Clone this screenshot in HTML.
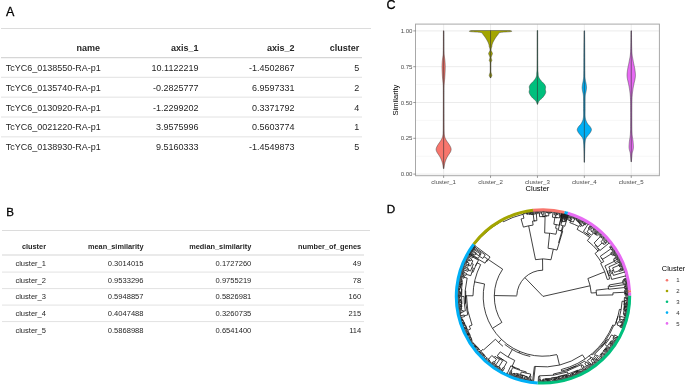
<!DOCTYPE html>
<html><head><meta charset="utf-8"><style>
html,body{margin:0;padding:0;background:#fff;width:685px;height:387px;overflow:hidden}
svg{display:block;will-change:transform}
text{font-family:"Liberation Sans", sans-serif}
</style></head><body>
<svg width="685" height="387" viewBox="0 0 685 387">
<text x="6" y="16" font-size="12.5" fill="#000" stroke="#000" stroke-width="0.3">A</text>
<line x1="1" y1="28.5" x2="371" y2="28.5" stroke="#dcdcdc" stroke-width="1"/>
<text x="100" y="50.6" font-size="9.0" font-weight="bold" text-anchor="end" fill="#262626">name</text>
<text x="198.5" y="50.6" font-size="9.0" font-weight="bold" text-anchor="end" fill="#262626">axis_1</text>
<text x="294.5" y="50.6" font-size="9.0" font-weight="bold" text-anchor="end" fill="#262626">axis_2</text>
<text x="359.2" y="50.6" font-size="9.0" font-weight="bold" text-anchor="end" fill="#262626">cluster</text>
<line x1="1" y1="57.7" x2="362" y2="57.7" stroke="#d6d6d6" stroke-width="1.3"/>
<text x="100.8" y="70.80" font-size="9.0" text-anchor="end" fill="#262626">TcYC6_0138550-RA-p1</text>
<text x="198.5" y="70.80" font-size="9.0" text-anchor="end" fill="#262626">10.1122219</text>
<text x="294.5" y="70.80" font-size="9.0" text-anchor="end" fill="#262626">-1.4502867</text>
<text x="359.2" y="70.80" font-size="9.0" text-anchor="end" fill="#262626">5</text>
<line x1="1" y1="77.30" x2="362" y2="77.30" stroke="#e2e2e2" stroke-width="1"/>
<text x="100.8" y="90.65" font-size="9.0" text-anchor="end" fill="#262626">TcYC6_0135740-RA-p1</text>
<text x="198.5" y="90.65" font-size="9.0" text-anchor="end" fill="#262626">-0.2825777</text>
<text x="294.5" y="90.65" font-size="9.0" text-anchor="end" fill="#262626">6.9597331</text>
<text x="359.2" y="90.65" font-size="9.0" text-anchor="end" fill="#262626">2</text>
<line x1="1" y1="97.15" x2="362" y2="97.15" stroke="#e2e2e2" stroke-width="1"/>
<text x="100.8" y="110.50" font-size="9.0" text-anchor="end" fill="#262626">TcYC6_0130920-RA-p1</text>
<text x="198.5" y="110.50" font-size="9.0" text-anchor="end" fill="#262626">-1.2299202</text>
<text x="294.5" y="110.50" font-size="9.0" text-anchor="end" fill="#262626">0.3371792</text>
<text x="359.2" y="110.50" font-size="9.0" text-anchor="end" fill="#262626">4</text>
<line x1="1" y1="117.00" x2="362" y2="117.00" stroke="#e2e2e2" stroke-width="1"/>
<text x="100.8" y="130.35" font-size="9.0" text-anchor="end" fill="#262626">TcYC6_0021220-RA-p1</text>
<text x="198.5" y="130.35" font-size="9.0" text-anchor="end" fill="#262626">3.9575996</text>
<text x="294.5" y="130.35" font-size="9.0" text-anchor="end" fill="#262626">0.5603774</text>
<text x="359.2" y="130.35" font-size="9.0" text-anchor="end" fill="#262626">1</text>
<line x1="1" y1="136.85" x2="362" y2="136.85" stroke="#e2e2e2" stroke-width="1"/>
<text x="100.8" y="150.20" font-size="9.0" text-anchor="end" fill="#262626">TcYC6_0138930-RA-p1</text>
<text x="198.5" y="150.20" font-size="9.0" text-anchor="end" fill="#262626">9.5160333</text>
<text x="294.5" y="150.20" font-size="9.0" text-anchor="end" fill="#262626">-1.4549873</text>
<text x="359.2" y="150.20" font-size="9.0" text-anchor="end" fill="#262626">5</text>
<text x="6.2" y="216" font-size="11.5" fill="#000" stroke="#000" stroke-width="0.3">B</text>
<line x1="2" y1="230.5" x2="370" y2="230.5" stroke="#dcdcdc" stroke-width="1"/>
<text x="46" y="249.2" font-size="7.35" font-weight="bold" text-anchor="end" fill="#262626">cluster</text>
<text x="143.5" y="249.2" font-size="7.35" font-weight="bold" text-anchor="end" fill="#262626">mean_similarity</text>
<text x="251.3" y="249.2" font-size="7.35" font-weight="bold" text-anchor="end" fill="#262626">median_similarity</text>
<text x="361.2" y="249.2" font-size="7.35" font-weight="bold" text-anchor="end" fill="#262626">number_of_genes</text>
<line x1="2" y1="255" x2="364" y2="255" stroke="#d6d6d6" stroke-width="1.2"/>
<text x="46" y="266.10" font-size="7.55" text-anchor="end" fill="#262626">cluster_1</text>
<text x="143.5" y="266.10" font-size="7.55" text-anchor="end" fill="#262626">0.3014015</text>
<text x="251.3" y="266.10" font-size="7.55" text-anchor="end" fill="#262626">0.1727260</text>
<text x="361.2" y="266.10" font-size="7.55" text-anchor="end" fill="#262626">49</text>
<line x1="2" y1="272.10" x2="364" y2="272.10" stroke="#e2e2e2" stroke-width="1"/>
<text x="46" y="282.70" font-size="7.55" text-anchor="end" fill="#262626">cluster_2</text>
<text x="143.5" y="282.70" font-size="7.55" text-anchor="end" fill="#262626">0.9533296</text>
<text x="251.3" y="282.70" font-size="7.55" text-anchor="end" fill="#262626">0.9755219</text>
<text x="361.2" y="282.70" font-size="7.55" text-anchor="end" fill="#262626">78</text>
<line x1="2" y1="288.60" x2="364" y2="288.60" stroke="#e2e2e2" stroke-width="1"/>
<text x="46" y="299.30" font-size="7.55" text-anchor="end" fill="#262626">cluster_3</text>
<text x="143.5" y="299.30" font-size="7.55" text-anchor="end" fill="#262626">0.5948857</text>
<text x="251.3" y="299.30" font-size="7.55" text-anchor="end" fill="#262626">0.5826981</text>
<text x="361.2" y="299.30" font-size="7.55" text-anchor="end" fill="#262626">160</text>
<line x1="2" y1="305.10" x2="364" y2="305.10" stroke="#e2e2e2" stroke-width="1"/>
<text x="46" y="315.90" font-size="7.55" text-anchor="end" fill="#262626">cluster_4</text>
<text x="143.5" y="315.90" font-size="7.55" text-anchor="end" fill="#262626">0.4047488</text>
<text x="251.3" y="315.90" font-size="7.55" text-anchor="end" fill="#262626">0.3260735</text>
<text x="361.2" y="315.90" font-size="7.55" text-anchor="end" fill="#262626">215</text>
<line x1="2" y1="321.60" x2="364" y2="321.60" stroke="#e2e2e2" stroke-width="1"/>
<text x="46" y="332.50" font-size="7.55" text-anchor="end" fill="#262626">cluster_5</text>
<text x="143.5" y="332.50" font-size="7.55" text-anchor="end" fill="#262626">0.5868988</text>
<text x="251.3" y="332.50" font-size="7.55" text-anchor="end" fill="#262626">0.6541400</text>
<text x="361.2" y="332.50" font-size="7.55" text-anchor="end" fill="#262626">114</text>
<text x="386.5" y="9.3" font-size="12.5" fill="#000" stroke="#000" stroke-width="0.3">C</text>
<line x1="415.5" y1="156.20" x2="659.4" y2="156.20" stroke="#f2f2f2" stroke-width="0.6"/>
<line x1="415.5" y1="120.40" x2="659.4" y2="120.40" stroke="#f2f2f2" stroke-width="0.6"/>
<line x1="415.5" y1="84.60" x2="659.4" y2="84.60" stroke="#f2f2f2" stroke-width="0.6"/>
<line x1="415.5" y1="48.80" x2="659.4" y2="48.80" stroke="#f2f2f2" stroke-width="0.6"/>
<line x1="415.5" y1="174.10" x2="659.4" y2="174.10" stroke="#e6e6e6" stroke-width="0.8"/>
<line x1="415.5" y1="138.30" x2="659.4" y2="138.30" stroke="#e6e6e6" stroke-width="0.8"/>
<line x1="415.5" y1="102.50" x2="659.4" y2="102.50" stroke="#e6e6e6" stroke-width="0.8"/>
<line x1="415.5" y1="66.70" x2="659.4" y2="66.70" stroke="#e6e6e6" stroke-width="0.8"/>
<line x1="415.5" y1="30.90" x2="659.4" y2="30.90" stroke="#e6e6e6" stroke-width="0.8"/>
<line x1="443.64" y1="24.1" x2="443.64" y2="175.7" stroke="#e6e6e6" stroke-width="0.8"/>
<line x1="490.54" y1="24.1" x2="490.54" y2="175.7" stroke="#e6e6e6" stroke-width="0.8"/>
<line x1="537.44" y1="24.1" x2="537.44" y2="175.7" stroke="#e6e6e6" stroke-width="0.8"/>
<line x1="584.34" y1="24.1" x2="584.34" y2="175.7" stroke="#e6e6e6" stroke-width="0.8"/>
<line x1="631.24" y1="24.1" x2="631.24" y2="175.7" stroke="#e6e6e6" stroke-width="0.8"/>
<path d="M443.89,30.80 L443.89,31.77 L443.90,33.08 L443.91,34.65 L443.92,36.39 L443.93,38.20 L443.94,40.00 L443.95,41.93 L443.96,44.09 L443.97,46.33 L443.99,48.49 L444.01,50.43 L444.04,52.00 L444.08,53.14 L444.12,53.96 L444.17,54.56 L444.23,55.04 L444.28,55.48 L444.34,56.00 L444.40,56.56 L444.47,57.07 L444.54,57.56 L444.61,58.04 L444.68,58.51 L444.74,59.00 L444.80,59.48 L444.85,59.95 L444.90,60.42 L444.95,60.90 L445.00,61.42 L445.04,62.00 L445.08,62.63 L445.13,63.29 L445.17,63.98 L445.20,64.71 L445.23,65.49 L445.24,66.30 L445.24,67.17 L445.22,68.09 L445.20,69.04 L445.17,70.03 L445.13,71.02 L445.09,72.00 L445.04,72.99 L444.99,74.01 L444.93,75.04 L444.87,76.06 L444.81,77.05 L444.74,78.00 L444.67,78.90 L444.59,79.78 L444.51,80.62 L444.43,81.44 L444.35,82.24 L444.29,83.00 L444.23,83.62 L444.18,84.07 L444.14,84.50 L444.10,85.04 L444.07,85.82 L444.04,87.00 L444.02,88.56 L444.00,90.41 L444.00,92.50 L443.99,94.81 L443.99,97.32 L443.99,100.00 L443.99,103.02 L444.00,106.44 L444.01,110.06 L444.02,113.67 L444.03,117.05 L444.04,120.00 L444.05,122.56 L444.06,124.89 L444.07,127.00 L444.08,128.89 L444.11,130.56 L444.14,132.00 L444.18,133.15 L444.24,133.98 L444.30,134.59 L444.37,135.07 L444.45,135.51 L444.54,136.00 L444.64,136.50 L444.75,136.94 L444.88,137.34 L445.01,137.72 L445.17,138.10 L445.34,138.50 L445.53,138.91 L445.74,139.31 L445.96,139.72 L446.20,140.13 L446.46,140.55 L446.74,141.00 L447.05,141.47 L447.40,141.96 L447.77,142.47 L448.14,142.98 L448.51,143.49 L448.84,144.00 L449.16,144.51 L449.48,145.02 L449.78,145.53 L450.07,146.04 L450.32,146.53 L450.54,147.00 L450.72,147.45 L450.87,147.87 L450.99,148.28 L451.08,148.69 L451.13,149.09 L451.14,149.50 L451.11,149.92 L451.04,150.33 L450.93,150.75 L450.79,151.17 L450.62,151.58 L450.44,152.00 L450.23,152.42 L449.97,152.83 L449.70,153.25 L449.41,153.67 L449.12,154.08 L448.84,154.50 L448.57,154.91 L448.30,155.31 L448.03,155.72 L447.76,156.13 L447.50,156.55 L447.24,157.00 L446.99,157.47 L446.74,157.96 L446.50,158.47 L446.27,158.98 L446.05,159.49 L445.84,160.00 L445.65,160.50 L445.46,161.00 L445.29,161.50 L445.13,162.00 L444.98,162.50 L444.84,163.00 L444.71,163.50 L444.60,164.01 L444.50,164.53 L444.41,165.03 L444.32,165.52 L444.24,166.00 L444.16,166.49 L444.08,166.99 L444.00,167.49 L443.94,167.94 L443.88,168.32 L443.84,168.60 L443.44,168.60 L443.40,168.32 L443.34,167.94 L443.28,167.49 L443.20,166.99 L443.12,166.49 L443.04,166.00 L442.96,165.52 L442.87,165.03 L442.78,164.53 L442.68,164.01 L442.57,163.50 L442.44,163.00 L442.30,162.50 L442.15,162.00 L441.99,161.50 L441.82,161.00 L441.63,160.50 L441.44,160.00 L441.23,159.49 L441.01,158.98 L440.78,158.47 L440.54,157.96 L440.29,157.47 L440.04,157.00 L439.78,156.55 L439.52,156.13 L439.25,155.72 L438.98,155.31 L438.71,154.91 L438.44,154.50 L438.16,154.08 L437.87,153.67 L437.58,153.25 L437.31,152.83 L437.05,152.42 L436.84,152.00 L436.66,151.58 L436.49,151.17 L436.35,150.75 L436.24,150.33 L436.17,149.92 L436.14,149.50 L436.15,149.09 L436.20,148.69 L436.29,148.28 L436.41,147.87 L436.56,147.45 L436.74,147.00 L436.96,146.53 L437.21,146.04 L437.50,145.53 L437.80,145.02 L438.12,144.51 L438.44,144.00 L438.77,143.49 L439.14,142.98 L439.51,142.47 L439.88,141.96 L440.23,141.47 L440.54,141.00 L440.82,140.55 L441.08,140.13 L441.32,139.72 L441.54,139.31 L441.75,138.91 L441.94,138.50 L442.11,138.10 L442.27,137.72 L442.40,137.34 L442.53,136.94 L442.64,136.50 L442.74,136.00 L442.83,135.51 L442.91,135.07 L442.98,134.59 L443.04,133.98 L443.10,133.15 L443.14,132.00 L443.17,130.56 L443.20,128.89 L443.21,127.00 L443.22,124.89 L443.23,122.56 L443.24,120.00 L443.25,117.05 L443.26,113.67 L443.27,110.06 L443.28,106.44 L443.29,103.02 L443.29,100.00 L443.29,97.32 L443.29,94.81 L443.28,92.50 L443.28,90.41 L443.26,88.56 L443.24,87.00 L443.21,85.82 L443.18,85.04 L443.14,84.50 L443.10,84.07 L443.05,83.62 L442.99,83.00 L442.93,82.24 L442.85,81.44 L442.77,80.62 L442.69,79.78 L442.61,78.90 L442.54,78.00 L442.47,77.05 L442.41,76.06 L442.35,75.04 L442.29,74.01 L442.24,72.99 L442.19,72.00 L442.15,71.02 L442.11,70.03 L442.08,69.04 L442.06,68.09 L442.04,67.17 L442.04,66.30 L442.05,65.49 L442.08,64.71 L442.11,63.98 L442.15,63.29 L442.20,62.63 L442.24,62.00 L442.28,61.42 L442.33,60.90 L442.38,60.42 L442.43,59.95 L442.48,59.48 L442.54,59.00 L442.60,58.51 L442.67,58.04 L442.74,57.56 L442.81,57.07 L442.88,56.56 L442.94,56.00 L443.00,55.48 L443.05,55.04 L443.11,54.56 L443.16,53.96 L443.20,53.14 L443.24,52.00 L443.27,50.43 L443.29,48.49 L443.31,46.33 L443.32,44.09 L443.33,41.93 L443.34,40.00 L443.35,38.20 L443.36,36.39 L443.37,34.65 L443.38,33.08 L443.39,31.77 L443.39,30.80Z" fill="#F8766D" stroke="#333" stroke-width="0.45" stroke-linejoin="round"/>
<line x1="443.64" y1="30.8" x2="443.64" y2="168.6" stroke="#333" stroke-width="0.6"/>
<path d="M510.04,30.50 L510.26,30.57 L510.61,30.66 L511.00,30.76 L511.36,30.88 L511.63,30.99 L511.74,31.10 L511.72,31.20 L511.64,31.30 L511.47,31.41 L511.16,31.51 L510.70,31.61 L510.04,31.70 L509.08,31.79 L507.81,31.87 L506.38,31.96 L504.94,32.04 L503.61,32.12 L502.54,32.20 L501.73,32.28 L501.07,32.34 L500.52,32.41 L500.07,32.49 L499.68,32.58 L499.34,32.70 L499.08,32.84 L498.93,32.99 L498.84,33.15 L498.78,33.34 L498.69,33.55 L498.54,33.80 L498.32,34.09 L498.06,34.43 L497.78,34.80 L497.49,35.18 L497.20,35.55 L496.94,35.90 L496.69,36.23 L496.45,36.54 L496.22,36.86 L495.98,37.17 L495.76,37.48 L495.54,37.80 L495.33,38.13 L495.13,38.45 L494.93,38.78 L494.73,39.11 L494.54,39.45 L494.34,39.80 L494.13,40.16 L493.92,40.54 L493.70,40.92 L493.50,41.30 L493.31,41.67 L493.14,42.00 L493.00,42.30 L492.89,42.59 L492.80,42.85 L492.71,43.10 L492.63,43.35 L492.54,43.60 L492.45,43.84 L492.35,44.07 L492.27,44.29 L492.18,44.52 L492.10,44.75 L492.04,45.00 L491.99,45.26 L491.97,45.54 L491.95,45.82 L491.93,46.11 L491.89,46.41 L491.84,46.70 L491.76,46.99 L491.65,47.29 L491.53,47.58 L491.42,47.88 L491.32,48.19 L491.24,48.50 L491.19,48.83 L491.14,49.17 L491.11,49.52 L491.10,49.86 L491.10,50.19 L491.14,50.50 L491.21,50.78 L491.32,51.03 L491.45,51.27 L491.58,51.50 L491.72,51.74 L491.84,52.00 L491.96,52.27 L492.10,52.55 L492.23,52.83 L492.34,53.12 L492.42,53.41 L492.44,53.70 L492.40,53.99 L492.30,54.29 L492.17,54.58 L492.01,54.88 L491.87,55.19 L491.74,55.50 L491.62,55.83 L491.50,56.17 L491.38,56.52 L491.27,56.86 L491.19,57.19 L491.14,57.50 L491.14,57.78 L491.17,58.04 L491.23,58.29 L491.30,58.53 L491.37,58.76 L491.44,59.00 L491.51,59.24 L491.60,59.47 L491.70,59.71 L491.78,59.94 L491.83,60.17 L491.84,60.40 L491.79,60.63 L491.70,60.86 L491.58,61.08 L491.45,61.31 L491.33,61.55 L491.24,61.80 L491.17,62.01 L491.11,62.17 L491.06,62.33 L491.01,62.57 L490.97,62.94 L490.94,63.50 L490.91,64.35 L490.90,65.46 L490.89,66.70 L490.88,67.95 L490.88,69.09 L490.89,70.00 L490.90,70.64 L490.90,71.11 L490.91,71.47 L490.93,71.78 L490.98,72.10 L491.04,72.50 L491.15,72.98 L491.32,73.51 L491.50,74.04 L491.67,74.57 L491.79,75.06 L491.84,75.50 L491.79,75.88 L491.68,76.23 L491.51,76.54 L491.33,76.83 L491.17,77.08 L491.04,77.30 L490.95,77.49 L490.88,77.64 L490.81,77.76 L490.76,77.86 L490.72,77.94 L490.69,78.00 L490.39,78.00 L490.36,77.94 L490.32,77.86 L490.27,77.76 L490.20,77.64 L490.13,77.49 L490.04,77.30 L489.91,77.08 L489.75,76.83 L489.57,76.54 L489.40,76.23 L489.29,75.88 L489.24,75.50 L489.29,75.06 L489.41,74.57 L489.58,74.04 L489.76,73.51 L489.93,72.98 L490.04,72.50 L490.10,72.10 L490.15,71.78 L490.17,71.47 L490.18,71.11 L490.18,70.64 L490.19,70.00 L490.20,69.09 L490.20,67.95 L490.19,66.70 L490.18,65.46 L490.17,64.35 L490.14,63.50 L490.11,62.94 L490.07,62.57 L490.02,62.33 L489.97,62.17 L489.91,62.01 L489.84,61.80 L489.75,61.55 L489.63,61.31 L489.50,61.08 L489.38,60.86 L489.29,60.63 L489.24,60.40 L489.25,60.17 L489.30,59.94 L489.38,59.71 L489.48,59.47 L489.57,59.24 L489.64,59.00 L489.71,58.76 L489.78,58.53 L489.85,58.29 L489.91,58.04 L489.94,57.78 L489.94,57.50 L489.89,57.19 L489.81,56.86 L489.70,56.52 L489.58,56.17 L489.46,55.83 L489.34,55.50 L489.21,55.19 L489.07,54.88 L488.92,54.58 L488.78,54.29 L488.68,53.99 L488.64,53.70 L488.66,53.41 L488.74,53.12 L488.85,52.83 L488.98,52.55 L489.12,52.27 L489.24,52.00 L489.36,51.74 L489.50,51.50 L489.63,51.27 L489.76,51.03 L489.87,50.78 L489.94,50.50 L489.98,50.19 L489.98,49.86 L489.97,49.52 L489.94,49.17 L489.89,48.83 L489.84,48.50 L489.76,48.19 L489.66,47.88 L489.55,47.58 L489.43,47.29 L489.32,46.99 L489.24,46.70 L489.19,46.41 L489.15,46.11 L489.13,45.82 L489.11,45.54 L489.09,45.26 L489.04,45.00 L488.98,44.75 L488.90,44.52 L488.81,44.29 L488.73,44.07 L488.63,43.84 L488.54,43.60 L488.45,43.35 L488.37,43.10 L488.28,42.85 L488.19,42.59 L488.08,42.30 L487.94,42.00 L487.77,41.67 L487.58,41.30 L487.38,40.92 L487.16,40.54 L486.95,40.16 L486.74,39.80 L486.54,39.45 L486.35,39.11 L486.15,38.78 L485.95,38.45 L485.75,38.13 L485.54,37.80 L485.32,37.48 L485.10,37.17 L484.87,36.86 L484.63,36.54 L484.39,36.23 L484.14,35.90 L483.88,35.55 L483.59,35.18 L483.30,34.80 L483.02,34.43 L482.76,34.09 L482.54,33.80 L482.39,33.55 L482.30,33.34 L482.24,33.15 L482.15,32.99 L482.00,32.84 L481.74,32.70 L481.40,32.58 L481.01,32.49 L480.56,32.41 L480.01,32.34 L479.35,32.28 L478.54,32.20 L477.47,32.12 L476.14,32.04 L474.70,31.96 L473.27,31.87 L472.00,31.79 L471.04,31.70 L470.38,31.61 L469.92,31.51 L469.62,31.41 L469.44,31.30 L469.36,31.20 L469.34,31.10 L469.45,30.99 L469.72,30.88 L470.08,30.76 L470.47,30.66 L470.82,30.57 L471.04,30.50Z" fill="#A3A500" stroke="#333" stroke-width="0.45" stroke-linejoin="round"/>
<line x1="490.54" y1="30.5" x2="490.54" y2="78" stroke="#333" stroke-width="0.6"/>
<path d="M537.69,30.50 L537.69,32.64 L537.70,35.61 L537.71,39.12 L537.72,42.89 L537.73,46.61 L537.74,50.00 L537.75,53.24 L537.76,56.59 L537.77,59.91 L537.79,63.02 L537.81,65.77 L537.84,68.00 L537.88,69.60 L537.92,70.68 L537.97,71.40 L538.03,71.92 L538.08,72.40 L538.14,73.00 L538.18,73.68 L538.21,74.31 L538.23,74.89 L538.28,75.46 L538.38,76.02 L538.54,76.60 L538.77,77.19 L539.04,77.77 L539.36,78.36 L539.72,78.94 L540.11,79.52 L540.54,80.10 L541.03,80.69 L541.60,81.29 L542.21,81.89 L542.81,82.48 L543.37,83.05 L543.84,83.60 L544.24,84.12 L544.60,84.61 L544.91,85.09 L545.17,85.56 L545.39,86.02 L545.54,86.50 L545.61,86.98 L545.59,87.47 L545.52,87.95 L545.43,88.43 L545.36,88.92 L545.34,89.40 L545.39,89.88 L545.49,90.37 L545.61,90.85 L545.71,91.33 L545.76,91.82 L545.74,92.30 L545.63,92.78 L545.47,93.27 L545.26,93.75 L545.01,94.23 L544.73,94.72 L544.44,95.20 L544.12,95.69 L543.76,96.19 L543.38,96.68 L542.97,97.17 L542.56,97.65 L542.14,98.10 L541.70,98.53 L541.21,98.95 L540.72,99.36 L540.24,99.75 L539.81,100.13 L539.44,100.50 L539.15,100.86 L538.91,101.20 L538.71,101.54 L538.54,101.86 L538.39,102.18 L538.24,102.50 L538.10,102.83 L537.97,103.18 L537.87,103.53 L537.77,103.84 L537.70,104.11 L537.64,104.30 L537.24,104.30 L537.18,104.11 L537.11,103.84 L537.02,103.53 L536.91,103.18 L536.78,102.83 L536.64,102.50 L536.49,102.18 L536.34,101.86 L536.17,101.54 L535.97,101.20 L535.73,100.86 L535.44,100.50 L535.07,100.13 L534.64,99.75 L534.16,99.36 L533.67,98.95 L533.18,98.53 L532.74,98.10 L532.32,97.65 L531.91,97.17 L531.50,96.68 L531.12,96.19 L530.76,95.69 L530.44,95.20 L530.15,94.72 L529.87,94.23 L529.62,93.75 L529.41,93.27 L529.25,92.78 L529.14,92.30 L529.12,91.82 L529.17,91.33 L529.27,90.85 L529.39,90.37 L529.49,89.88 L529.54,89.40 L529.52,88.92 L529.45,88.43 L529.36,87.95 L529.29,87.47 L529.27,86.98 L529.34,86.50 L529.49,86.02 L529.71,85.56 L529.97,85.09 L530.28,84.61 L530.64,84.12 L531.04,83.60 L531.51,83.05 L532.07,82.48 L532.67,81.89 L533.28,81.29 L533.85,80.69 L534.34,80.10 L534.77,79.52 L535.16,78.94 L535.52,78.36 L535.84,77.77 L536.11,77.19 L536.34,76.60 L536.50,76.02 L536.60,75.46 L536.65,74.89 L536.67,74.31 L536.70,73.68 L536.74,73.00 L536.80,72.40 L536.85,71.92 L536.91,71.40 L536.96,70.68 L537.00,69.60 L537.04,68.00 L537.07,65.77 L537.09,63.02 L537.11,59.91 L537.12,56.59 L537.13,53.24 L537.14,50.00 L537.15,46.61 L537.16,42.89 L537.17,39.12 L537.18,35.61 L537.19,32.64 L537.19,30.50Z" fill="#00BF7D" stroke="#333" stroke-width="0.45" stroke-linejoin="round"/>
<line x1="537.44" y1="30.5" x2="537.44" y2="104.3" stroke="#333" stroke-width="0.6"/>
<path d="M584.59,30.80 L584.61,32.34 L584.63,34.45 L584.66,36.96 L584.69,39.68 L584.72,42.42 L584.74,45.00 L584.76,47.45 L584.78,49.94 L584.79,52.45 L584.81,54.97 L584.82,57.49 L584.84,60.00 L584.85,62.62 L584.86,65.37 L584.87,68.12 L584.88,70.74 L584.91,73.08 L584.94,75.00 L584.98,76.42 L585.04,77.44 L585.10,78.19 L585.17,78.78 L585.25,79.34 L585.34,80.00 L585.45,80.73 L585.59,81.42 L585.74,82.09 L585.89,82.73 L586.03,83.37 L586.14,84.00 L586.24,84.63 L586.33,85.24 L586.42,85.84 L586.48,86.43 L586.52,87.02 L586.54,87.60 L586.52,88.17 L586.48,88.73 L586.42,89.27 L586.33,89.83 L586.24,90.40 L586.14,91.00 L586.02,91.62 L585.88,92.25 L585.73,92.90 L585.58,93.57 L585.44,94.27 L585.34,95.00 L585.27,95.72 L585.22,96.41 L585.19,97.12 L585.17,97.93 L585.15,98.87 L585.14,100.00 L585.13,101.42 L585.13,103.11 L585.13,104.94 L585.13,106.78 L585.14,108.51 L585.14,110.00 L585.13,111.26 L585.12,112.39 L585.11,113.41 L585.10,114.33 L585.11,115.19 L585.14,116.00 L585.19,116.74 L585.25,117.39 L585.33,117.97 L585.42,118.50 L585.52,119.00 L585.64,119.50 L585.77,119.98 L585.93,120.42 L586.09,120.83 L586.27,121.23 L586.45,121.61 L586.64,122.00 L586.83,122.38 L587.01,122.73 L587.20,123.08 L587.41,123.43 L587.66,123.80 L587.94,124.20 L588.29,124.63 L588.71,125.10 L589.15,125.58 L589.60,126.06 L590.00,126.54 L590.34,127.00 L590.62,127.45 L590.87,127.89 L591.09,128.32 L591.26,128.76 L591.38,129.18 L591.44,129.60 L591.42,130.02 L591.34,130.43 L591.20,130.84 L591.02,131.24 L590.83,131.63 L590.64,132.00 L590.45,132.35 L590.24,132.69 L590.01,133.01 L589.77,133.33 L589.51,133.65 L589.24,134.00 L588.95,134.37 L588.63,134.75 L588.29,135.14 L587.95,135.54 L587.63,135.92 L587.34,136.30 L587.07,136.64 L586.81,136.96 L586.57,137.27 L586.34,137.60 L586.13,137.97 L585.94,138.40 L585.77,138.86 L585.61,139.33 L585.48,139.83 L585.35,140.42 L585.24,141.13 L585.14,142.00 L585.05,143.03 L584.97,144.18 L584.91,145.46 L584.85,146.85 L584.79,148.37 L584.74,150.00 L584.69,151.94 L584.64,154.24 L584.59,156.65 L584.55,158.95 L584.52,160.91 L584.49,162.30 L584.19,162.30 L584.16,160.91 L584.13,158.95 L584.09,156.65 L584.04,154.24 L583.99,151.94 L583.94,150.00 L583.89,148.37 L583.83,146.85 L583.77,145.46 L583.71,144.18 L583.63,143.03 L583.54,142.00 L583.44,141.13 L583.33,140.42 L583.20,139.83 L583.07,139.33 L582.91,138.86 L582.74,138.40 L582.55,137.97 L582.34,137.60 L582.11,137.27 L581.87,136.96 L581.61,136.64 L581.34,136.30 L581.05,135.92 L580.73,135.54 L580.39,135.14 L580.05,134.75 L579.73,134.37 L579.44,134.00 L579.17,133.65 L578.91,133.33 L578.67,133.01 L578.44,132.69 L578.23,132.35 L578.04,132.00 L577.85,131.63 L577.66,131.24 L577.48,130.84 L577.34,130.43 L577.26,130.02 L577.24,129.60 L577.30,129.18 L577.42,128.76 L577.59,128.32 L577.81,127.89 L578.06,127.45 L578.34,127.00 L578.68,126.54 L579.08,126.06 L579.53,125.58 L579.97,125.10 L580.39,124.63 L580.74,124.20 L581.02,123.80 L581.27,123.43 L581.48,123.08 L581.67,122.73 L581.85,122.38 L582.04,122.00 L582.23,121.61 L582.41,121.23 L582.59,120.83 L582.75,120.42 L582.91,119.98 L583.04,119.50 L583.16,119.00 L583.26,118.50 L583.35,117.97 L583.43,117.39 L583.49,116.74 L583.54,116.00 L583.57,115.19 L583.58,114.33 L583.57,113.41 L583.56,112.39 L583.55,111.26 L583.54,110.00 L583.54,108.51 L583.55,106.78 L583.55,104.94 L583.55,103.11 L583.55,101.42 L583.54,100.00 L583.53,98.87 L583.51,97.93 L583.49,97.12 L583.46,96.41 L583.41,95.72 L583.34,95.00 L583.24,94.27 L583.10,93.57 L582.95,92.90 L582.80,92.25 L582.66,91.62 L582.54,91.00 L582.44,90.40 L582.35,89.83 L582.26,89.27 L582.20,88.73 L582.16,88.17 L582.14,87.60 L582.16,87.02 L582.20,86.43 L582.26,85.84 L582.35,85.24 L582.44,84.63 L582.54,84.00 L582.65,83.37 L582.79,82.73 L582.94,82.09 L583.09,81.42 L583.23,80.73 L583.34,80.00 L583.43,79.34 L583.51,78.78 L583.58,78.19 L583.64,77.44 L583.70,76.42 L583.74,75.00 L583.77,73.08 L583.80,70.74 L583.81,68.12 L583.82,65.37 L583.83,62.62 L583.84,60.00 L583.86,57.49 L583.87,54.97 L583.89,52.45 L583.90,49.94 L583.92,47.45 L583.94,45.00 L583.96,42.42 L583.99,39.68 L584.02,36.96 L584.05,34.45 L584.07,32.34 L584.09,30.80Z" fill="#00B0F6" stroke="#333" stroke-width="0.45" stroke-linejoin="round"/>
<line x1="584.34" y1="30.8" x2="584.34" y2="162.3" stroke="#333" stroke-width="0.6"/>
<path d="M631.49,30.80 L631.50,32.41 L631.52,34.67 L631.54,37.34 L631.57,40.13 L631.60,42.77 L631.64,45.00 L631.69,46.85 L631.74,48.53 L631.80,50.08 L631.87,51.49 L631.95,52.79 L632.04,54.00 L632.15,55.07 L632.27,55.97 L632.41,56.77 L632.55,57.50 L632.70,58.23 L632.84,59.00 L632.99,59.81 L633.14,60.62 L633.29,61.42 L633.44,62.21 L633.59,62.97 L633.74,63.70 L633.88,64.38 L634.02,65.03 L634.16,65.65 L634.29,66.26 L634.42,66.87 L634.54,67.50 L634.66,68.14 L634.77,68.79 L634.87,69.44 L634.97,70.10 L635.06,70.75 L635.14,71.40 L635.22,72.05 L635.29,72.71 L635.35,73.36 L635.40,74.01 L635.43,74.66 L635.44,75.30 L635.42,75.92 L635.38,76.54 L635.32,77.14 L635.24,77.75 L635.14,78.37 L635.04,79.00 L634.92,79.65 L634.77,80.31 L634.62,80.98 L634.45,81.66 L634.29,82.33 L634.14,83.00 L634.00,83.67 L633.86,84.34 L633.72,85.01 L633.59,85.68 L633.46,86.34 L633.34,87.00 L633.23,87.61 L633.13,88.17 L633.03,88.73 L632.94,89.32 L632.84,90.00 L632.74,90.80 L632.62,91.69 L632.50,92.64 L632.37,93.66 L632.24,94.81 L632.13,96.11 L632.04,97.60 L631.98,99.31 L631.93,101.22 L631.90,103.29 L631.87,105.47 L631.86,107.72 L631.84,110.00 L631.83,112.43 L631.82,115.07 L631.82,117.78 L631.82,120.42 L631.83,122.88 L631.84,125.00 L631.86,126.78 L631.88,128.33 L631.91,129.69 L631.95,130.89 L631.99,131.98 L632.04,133.00 L632.09,133.90 L632.15,134.63 L632.22,135.25 L632.28,135.81 L632.36,136.38 L632.44,137.00 L632.53,137.67 L632.64,138.35 L632.75,139.03 L632.85,139.70 L632.96,140.36 L633.04,141.00 L633.11,141.62 L633.17,142.23 L633.22,142.83 L633.27,143.40 L633.31,143.96 L633.34,144.50 L633.37,145.01 L633.41,145.49 L633.43,145.95 L633.45,146.40 L633.45,146.85 L633.44,147.30 L633.41,147.75 L633.36,148.20 L633.30,148.64 L633.22,149.08 L633.14,149.53 L633.04,150.00 L632.93,150.47 L632.79,150.94 L632.64,151.42 L632.49,151.91 L632.35,152.44 L632.24,153.00 L632.15,153.60 L632.08,154.23 L632.02,154.89 L631.96,155.57 L631.90,156.28 L631.84,157.00 L631.76,157.81 L631.68,158.72 L631.59,159.65 L631.51,160.53 L631.44,161.27 L631.39,161.80 L631.09,161.80 L631.04,161.27 L630.97,160.53 L630.89,159.65 L630.80,158.72 L630.72,157.81 L630.64,157.00 L630.58,156.28 L630.52,155.57 L630.46,154.89 L630.40,154.23 L630.33,153.60 L630.24,153.00 L630.13,152.44 L629.99,151.91 L629.84,151.42 L629.69,150.94 L629.55,150.47 L629.44,150.00 L629.34,149.53 L629.26,149.08 L629.18,148.64 L629.12,148.20 L629.07,147.75 L629.04,147.30 L629.03,146.85 L629.03,146.40 L629.05,145.95 L629.07,145.49 L629.11,145.01 L629.14,144.50 L629.17,143.96 L629.21,143.40 L629.26,142.83 L629.31,142.23 L629.37,141.62 L629.44,141.00 L629.52,140.36 L629.63,139.70 L629.73,139.03 L629.84,138.35 L629.95,137.67 L630.04,137.00 L630.12,136.38 L630.20,135.81 L630.26,135.25 L630.33,134.63 L630.39,133.90 L630.44,133.00 L630.49,131.98 L630.53,130.89 L630.57,129.69 L630.60,128.33 L630.62,126.78 L630.64,125.00 L630.65,122.88 L630.66,120.42 L630.66,117.78 L630.66,115.07 L630.65,112.43 L630.64,110.00 L630.62,107.72 L630.61,105.47 L630.58,103.29 L630.55,101.22 L630.50,99.31 L630.44,97.60 L630.35,96.11 L630.24,94.81 L630.12,93.66 L629.98,92.64 L629.86,91.69 L629.74,90.80 L629.64,90.00 L629.54,89.32 L629.45,88.73 L629.35,88.17 L629.25,87.61 L629.14,87.00 L629.02,86.34 L628.89,85.68 L628.76,85.01 L628.62,84.34 L628.48,83.67 L628.34,83.00 L628.19,82.33 L628.03,81.66 L627.87,80.98 L627.71,80.31 L627.56,79.65 L627.44,79.00 L627.34,78.37 L627.24,77.75 L627.16,77.14 L627.10,76.54 L627.06,75.92 L627.04,75.30 L627.05,74.66 L627.08,74.01 L627.13,73.36 L627.19,72.71 L627.26,72.05 L627.34,71.40 L627.42,70.75 L627.51,70.10 L627.61,69.44 L627.71,68.79 L627.82,68.14 L627.94,67.50 L628.06,66.87 L628.19,66.26 L628.32,65.65 L628.46,65.03 L628.60,64.38 L628.74,63.70 L628.89,62.97 L629.04,62.21 L629.19,61.42 L629.34,60.62 L629.49,59.81 L629.64,59.00 L629.78,58.23 L629.93,57.50 L630.07,56.77 L630.21,55.97 L630.33,55.07 L630.44,54.00 L630.53,52.79 L630.61,51.49 L630.68,50.08 L630.74,48.53 L630.79,46.85 L630.84,45.00 L630.88,42.77 L630.91,40.13 L630.94,37.34 L630.96,34.67 L630.98,32.41 L630.99,30.80Z" fill="#E76BF3" stroke="#333" stroke-width="0.45" stroke-linejoin="round"/>
<line x1="631.24" y1="30.8" x2="631.24" y2="161.8" stroke="#333" stroke-width="0.6"/>
<rect x="415.5" y="24.1" width="243.90" height="151.60" fill="none" stroke="#a8a8a8" stroke-width="1"/>
<line x1="413.3" y1="174.10" x2="415.5" y2="174.10" stroke="#555" stroke-width="0.6"/>
<text x="412.5" y="176.20" font-size="6.1" text-anchor="end" fill="#4d4d4d">0.00</text>
<line x1="413.3" y1="138.30" x2="415.5" y2="138.30" stroke="#555" stroke-width="0.6"/>
<text x="412.5" y="140.40" font-size="6.1" text-anchor="end" fill="#4d4d4d">0.25</text>
<line x1="413.3" y1="102.50" x2="415.5" y2="102.50" stroke="#555" stroke-width="0.6"/>
<text x="412.5" y="104.60" font-size="6.1" text-anchor="end" fill="#4d4d4d">0.50</text>
<line x1="413.3" y1="66.70" x2="415.5" y2="66.70" stroke="#555" stroke-width="0.6"/>
<text x="412.5" y="68.80" font-size="6.1" text-anchor="end" fill="#4d4d4d">0.75</text>
<line x1="413.3" y1="30.90" x2="415.5" y2="30.90" stroke="#555" stroke-width="0.6"/>
<text x="412.5" y="33.00" font-size="6.1" text-anchor="end" fill="#4d4d4d">1.00</text>
<line x1="443.64" y1="175.7" x2="443.64" y2="177.89999999999998" stroke="#555" stroke-width="0.6"/>
<text x="443.64" y="183.6" font-size="6.1" text-anchor="middle" fill="#4d4d4d">cluster_1</text>
<line x1="490.54" y1="175.7" x2="490.54" y2="177.89999999999998" stroke="#555" stroke-width="0.6"/>
<text x="490.54" y="183.6" font-size="6.1" text-anchor="middle" fill="#4d4d4d">cluster_2</text>
<line x1="537.44" y1="175.7" x2="537.44" y2="177.89999999999998" stroke="#555" stroke-width="0.6"/>
<text x="537.44" y="183.6" font-size="6.1" text-anchor="middle" fill="#4d4d4d">cluster_3</text>
<line x1="584.34" y1="175.7" x2="584.34" y2="177.89999999999998" stroke="#555" stroke-width="0.6"/>
<text x="584.34" y="183.6" font-size="6.1" text-anchor="middle" fill="#4d4d4d">cluster_4</text>
<line x1="631.24" y1="175.7" x2="631.24" y2="177.89999999999998" stroke="#555" stroke-width="0.6"/>
<text x="631.24" y="183.6" font-size="6.1" text-anchor="middle" fill="#4d4d4d">cluster_5</text>
<text x="537.5" y="191" font-size="7.5" text-anchor="middle" fill="#000">Cluster</text>
<text transform="translate(397.8,100) rotate(-90)" x="0" y="0" font-size="7.6" text-anchor="middle" fill="#000">Similarity</text>
<text x="386.8" y="213" font-size="11.7" fill="#000" stroke="#000" stroke-width="0.3">D</text>
<path d="M543.00,296.40L590.12,285.78 M543.00,296.40L524.80,277.55 M516.82,295.49A26.20,26.20 0 0 1 542.77,270.20 M542.68,270.20L542.54,258.90 M535.52,259.65A37.50,37.50 0 0 1 550.99,259.76 M535.52,259.65L528.65,225.85 M523.40,227.12A72.00,72.00 0 0 1 533.10,225.08 M550.99,259.76L553.31,249.11 M548.06,248.27A48.40,48.40 0 0 1 556.99,250.07 M548.06,248.27L549.64,233.25 M544.66,232.92A63.50,63.50 0 0 1 555.99,234.24 M523.40,227.12L521.08,218.94 M521.08,218.94A80.50,80.50 0 0 1 523.93,218.19 M523.93,218.19L522.99,214.30 M503.33,221.79A84.50,84.50 0 0 1 522.99,214.30 M474.34,244.11L474.18,243.99 M474.88,243.42L474.72,243.30 M474.34,244.11A86.30,86.30 0 0 1 474.88,243.42 M474.93,244.01L474.61,243.77 M475.42,242.73L475.26,242.61 M475.97,242.05L475.81,241.92 M476.52,241.37L476.37,241.24 M475.97,242.05A86.30,86.30 0 0 1 476.52,241.37 M476.24,241.71L476.24,241.71 M477.08,240.70L476.93,240.57 M477.65,240.03L477.50,239.90 M477.08,240.70A86.30,86.30 0 0 1 477.65,240.03 M477.37,240.37L477.37,240.37 M478.23,239.37L478.08,239.24 M477.37,240.37A86.30,86.30 0 0 1 478.23,239.37 M477.79,239.87L477.79,239.87 M476.24,241.71A86.30,86.30 0 0 1 477.79,239.87 M477.01,240.78L477.01,240.78 M475.42,242.73A86.30,86.30 0 0 1 477.01,240.78 M476.21,241.75L476.21,241.75 M478.81,238.72L478.66,238.59 M479.40,238.07L479.25,237.94 M479.99,237.43L479.85,237.29 M479.40,238.07A86.30,86.30 0 0 1 479.99,237.43 M479.69,237.75L479.69,237.75 M478.81,238.72A86.30,86.30 0 0 1 479.69,237.75 M479.25,238.23L479.25,238.23 M480.59,236.79L480.45,236.65 M479.25,238.23A86.30,86.30 0 0 1 480.59,236.79 M479.92,237.51L479.92,237.51 M481.20,236.16L481.06,236.02 M481.82,235.54L481.67,235.40 M481.20,236.16A86.30,86.30 0 0 1 481.82,235.54 M481.51,235.85L481.51,235.85 M479.92,237.51A86.30,86.30 0 0 1 481.51,235.85 M480.71,236.67L480.71,236.67 M476.21,241.75A86.30,86.30 0 0 1 480.71,236.67 M478.41,239.17L478.41,239.17 M482.44,234.92L482.30,234.78 M483.06,234.31L482.92,234.16 M482.44,234.92A86.30,86.30 0 0 1 483.06,234.31 M482.75,234.61L482.75,234.61 M483.70,233.70L483.56,233.56 M482.75,234.61A86.30,86.30 0 0 1 483.70,233.70 M483.22,234.16L483.22,234.16 M484.34,233.11L484.20,232.96 M484.98,232.51L484.85,232.37 M484.34,233.11A86.30,86.30 0 0 1 484.98,232.51 M484.66,232.81L484.66,232.81 M485.63,231.93L485.50,231.78 M486.29,231.35L486.16,231.20 M485.63,231.93A86.30,86.30 0 0 1 486.29,231.35 M485.96,231.64L485.96,231.64 M484.66,232.81A86.30,86.30 0 0 1 485.96,231.64 M485.31,232.22L485.31,232.22 M483.22,234.16A86.30,86.30 0 0 1 485.31,232.22 M484.26,233.18L484.26,233.18 M486.95,230.78L486.82,230.62 M487.62,230.21L487.49,230.06 M486.95,230.78A86.30,86.30 0 0 1 487.62,230.21 M487.29,230.49L487.29,230.49 M488.30,229.65L488.17,229.50 M487.29,230.49A86.30,86.30 0 0 1 488.30,229.65 M487.79,230.07L487.79,230.07 M488.98,229.10L488.85,228.95 M489.66,228.56L489.54,228.40 M490.35,228.02L490.23,227.86 M489.66,228.56A86.30,86.30 0 0 1 490.35,228.02 M490.01,228.29L490.01,228.29 M488.98,229.10A86.30,86.30 0 0 1 490.01,228.29 M489.49,228.69L489.49,228.69 M491.05,227.49L490.93,227.33 M489.49,228.69A86.30,86.30 0 0 1 491.05,227.49 M490.27,228.09L490.27,228.09 M491.75,226.96L491.63,226.80 M492.46,226.45L492.34,226.29 M491.75,226.96A86.30,86.30 0 0 1 492.46,226.45 M492.10,226.71L492.10,226.71 M490.27,228.09A86.30,86.30 0 0 1 492.10,226.71 M491.18,227.39L491.18,227.39 M493.17,225.94L493.06,225.78 M493.89,225.44L493.77,225.27 M493.17,225.94A86.30,86.30 0 0 1 493.89,225.44 M493.53,225.69L493.53,225.69 M491.18,227.39A86.30,86.30 0 0 1 493.53,225.69 M492.35,226.53L492.35,226.53 M487.79,230.07A86.30,86.30 0 0 1 492.35,226.53 M490.04,228.26L490.04,228.26 M494.61,224.94L494.50,224.78 M490.04,228.26A86.30,86.30 0 0 1 494.61,224.94 M492.30,226.56L492.30,226.56 M484.26,233.18A86.30,86.30 0 0 1 492.30,226.56 M488.18,229.75L488.18,229.75 M495.34,224.45L495.23,224.29 M496.07,223.98L495.96,223.81 M496.81,223.50L496.70,223.33 M497.55,223.04L497.45,222.87 M496.81,223.50A86.30,86.30 0 0 1 497.55,223.04 M497.18,223.27L497.18,223.27 M496.07,223.98A86.30,86.30 0 0 1 497.18,223.27 M496.62,223.62L496.62,223.62 M495.34,224.45A86.30,86.30 0 0 1 496.62,223.62 M495.98,224.03L495.98,224.03 M498.30,222.58L498.19,222.41 M499.05,222.13L498.95,221.96 M499.80,221.69L499.70,221.52 M499.05,222.13A86.30,86.30 0 0 1 499.80,221.69 M499.43,221.91L499.43,221.91 M498.30,222.58A86.30,86.30 0 0 1 499.43,221.91 M498.86,222.24L498.86,222.24 M495.98,224.03A86.30,86.30 0 0 1 498.86,222.24 M497.41,223.12L497.41,223.12 M488.18,229.75A86.30,86.30 0 0 1 497.41,223.12 M492.68,226.29L492.68,226.29 M500.56,221.25L500.47,221.08 M501.33,220.83L501.23,220.65 M500.56,221.25A86.30,86.30 0 0 1 501.33,220.83 M500.95,221.04L500.95,221.04 M502.10,220.41L502.00,220.23 M500.95,221.04A86.30,86.30 0 0 1 502.10,220.41 M501.52,220.72L501.52,220.72 M492.68,226.29A86.30,86.30 0 0 1 501.52,220.72 M497.02,223.37L497.02,223.37 M478.41,239.17A86.30,86.30 0 0 1 497.02,223.37 M487.41,230.91L487.15,230.61 M474.93,244.01A85.90,85.90 0 0 1 487.41,230.91 M503.33,221.79L502.67,220.55 M480.82,237.13A85.90,85.90 0 0 1 502.67,220.55 M523.10,212.98L523.05,212.75 M523.93,212.79L523.87,212.55 M523.10,212.98A85.76,85.76 0 0 1 523.93,212.79 M523.73,213.82L523.51,212.88 M524.96,213.54L524.70,212.37 M523.73,213.82A84.80,84.80 0 0 1 524.96,213.54 M522.99,214.30L522.92,214.01 M522.92,214.01A84.80,84.80 0 0 1 524.35,213.68 M525.85,213.71L525.54,212.19 M526.67,213.54L526.37,212.02 M525.85,213.71A84.45,84.45 0 0 1 526.67,213.54 M526.34,214.01L526.26,213.62 M527.49,213.38L527.20,211.86 M528.31,213.23L528.04,211.71 M527.49,213.38A84.45,84.45 0 0 1 528.31,213.23 M527.97,213.70L527.90,213.31 M526.34,214.01A84.05,84.05 0 0 1 527.97,213.70 M527.23,214.25L527.15,213.85 M529.13,213.09L528.88,211.57 M529.90,212.56L529.72,211.43 M530.73,212.44L530.56,211.30 M529.90,212.56A84.85,84.85 0 0 1 530.73,212.44 M530.37,212.90L530.31,212.50 M529.13,213.09A84.45,84.45 0 0 1 530.37,212.90 M529.81,213.39L529.75,212.99 M531.67,213.11L531.40,211.19 M529.81,213.39A84.05,84.05 0 0 1 531.67,213.11 M530.80,213.64L530.74,213.25 M527.23,214.25A83.65,83.65 0 0 1 530.80,213.64 M529.08,214.32L529.01,213.92 M532.59,213.80L532.25,211.08 M529.08,214.32A83.25,83.25 0 0 1 532.59,213.80 M530.89,214.44L530.83,214.04 M533.45,214.10L533.09,210.97 M530.89,214.44A82.85,82.85 0 0 1 533.45,214.10 M532.22,214.65L532.17,214.26 M534.31,214.41L533.94,210.88 M532.22,214.65A82.45,82.45 0 0 1 534.31,214.41 M534.03,220.93L533.27,214.52 M534.93,212.30L534.78,210.79 M535.76,212.23L535.63,210.72 M534.93,212.30A84.49,84.49 0 0 1 535.76,212.23 M535.50,213.99L535.34,212.26 M536.68,213.33L536.48,210.65 M537.50,213.27L537.33,210.59 M536.68,213.33A83.31,83.31 0 0 1 537.50,213.27 M537.13,213.85L537.09,213.30 M535.50,213.99A82.75,82.75 0 0 1 537.13,213.85 M536.86,220.65L536.32,213.92 M534.03,220.93A76.00,76.00 0 0 1 536.86,220.65 M533.10,225.08L532.55,221.12 M532.55,221.12A76.00,76.00 0 0 1 535.44,220.78 M538.30,212.52L538.19,210.53 M539.16,212.48L539.07,210.49 M538.30,212.52A84.01,84.01 0 0 1 539.16,212.48 M538.79,213.70L538.73,212.50 M540.07,213.64L539.95,210.45 M538.79,213.70A82.81,82.81 0 0 1 540.07,213.64 M539.56,216.67L539.43,213.67 M540.89,212.53L540.84,210.43 M541.74,211.66L541.72,210.41 M542.61,211.65L542.60,210.40 M541.74,211.66A84.75,84.75 0 0 1 542.61,211.65 M542.18,212.51L542.17,211.65 M540.89,212.53A83.89,83.89 0 0 1 542.18,212.51 M541.56,214.18L541.54,212.52 M543.48,212.04L543.49,210.40 M544.34,212.05L544.37,210.41 M543.48,212.04A84.36,84.36 0 0 1 544.34,212.05 M543.89,214.17L543.91,212.04 M541.56,214.18A82.23,82.23 0 0 1 543.89,214.17 M542.73,216.08L542.73,214.17 M545.11,215.71L545.25,210.43 M546.07,212.07L546.13,210.46 M546.94,212.11L547.02,210.49 M546.07,212.07A84.39,84.39 0 0 1 546.94,212.11 M546.49,212.49L546.51,212.09 M547.81,212.15L547.90,210.54 M548.67,212.21L548.78,210.59 M547.81,212.15A84.39,84.39 0 0 1 548.67,212.21 M548.21,212.58L548.24,212.18 M546.49,212.49A83.99,83.99 0 0 1 548.21,212.58 M547.33,212.93L547.35,212.53 M549.50,212.67L549.66,210.66 M550.44,211.89L550.54,210.73 M551.30,211.97L551.42,210.81 M550.44,211.89A84.84,84.84 0 0 1 551.30,211.97 M550.83,212.32L550.87,211.93 M552.13,212.45L552.30,210.90 M550.83,212.32A84.44,84.44 0 0 1 552.13,212.45 M551.44,212.84L551.48,212.39 M549.50,212.67A83.99,83.99 0 0 1 551.44,212.84 M550.43,213.15L550.47,212.75 M547.33,212.93A83.59,83.59 0 0 1 550.43,213.15 M548.68,215.88L548.88,213.02 M545.11,215.71A80.72,80.72 0 0 1 548.68,215.88 M546.88,216.18L546.90,215.78 M542.73,216.08A80.32,80.32 0 0 1 546.88,216.18 M544.79,216.62L544.81,216.10 M539.56,216.67A79.80,79.80 0 0 1 544.79,216.62 M544.66,232.92L545.09,216.63 M542.18,216.60A79.80,79.80 0 0 1 545.09,216.63 M555.99,234.24L557.17,228.56 M555.63,228.26A69.30,69.30 0 0 1 557.17,228.56 M552.45,217.21L553.19,211.01 M553.88,212.82L554.10,211.12 M554.76,212.94L555.00,211.24 M553.88,212.82A84.29,84.29 0 0 1 554.76,212.94 M554.08,214.66L554.32,212.87 M555.56,213.68L555.91,211.37 M556.50,213.42L556.81,211.52 M557.38,213.57L557.71,211.67 M556.50,213.42A84.07,84.07 0 0 1 557.38,213.57 M556.87,213.89L556.94,213.49 M555.56,213.68A83.67,83.67 0 0 1 556.87,213.89 M556.15,214.18L556.22,213.78 M558.12,214.51L558.61,211.83 M556.15,214.18A83.27,83.27 0 0 1 558.12,214.51 M557.00,215.11L557.14,214.34 M554.08,214.66A82.49,82.49 0 0 1 557.00,215.11 M555.19,217.18L555.54,214.87 M559.22,213.49L559.51,212.00 M560.10,213.67L560.41,212.18 M559.22,213.49A84.48,84.48 0 0 1 560.10,213.67 M559.22,215.75L559.66,213.58 M560.51,216.02L561.30,212.37 M559.22,215.75A82.26,82.26 0 0 1 560.51,216.02 M559.43,217.95L559.86,215.89 M555.19,217.18A80.15,80.15 0 0 1 559.43,217.95 M557.24,217.93L557.31,217.54 M552.45,217.21A79.75,79.75 0 0 1 557.24,217.93 M553.85,224.21L554.85,217.53 M559.29,225.24L562.19,212.57 M553.85,224.21A73.00,73.00 0 0 1 559.29,225.24 M555.63,228.26L556.30,224.62 M556.30,224.62A73.00,73.00 0 0 1 556.58,224.67 M556.99,250.07L562.08,233.22 M558.62,242.62L563.23,226.78 M558.62,242.62A56.00,56.00 0 0 1 559.19,242.79 M560.67,217.07L561.70,212.46 M561.10,217.16L562.15,212.56 M560.67,217.07A81.28,81.28 0 0 1 561.10,217.16 M560.71,217.88L560.89,217.11 M561.36,218.03L562.61,212.67 M560.71,217.88A80.49,80.49 0 0 1 561.36,218.03 M558.24,230.13L561.03,217.95 M560.96,221.55L563.07,212.77 M561.49,221.16L563.52,212.88 M562.45,219.09L563.98,213.00 M563.25,217.73L564.43,213.11 M563.78,217.45L564.89,213.23 M564.21,217.56L565.34,213.35 M563.78,217.45A81.64,81.64 0 0 1 564.21,217.56 M563.89,217.89L563.99,217.51 M563.25,217.73A81.24,81.24 0 0 1 563.89,217.89 M563.18,219.27L563.57,217.81 M562.45,219.09A79.72,79.72 0 0 1 563.18,219.27 M562.36,220.97L562.82,219.18 M564.09,219.67L565.79,213.48 M564.68,219.16L566.24,213.60 M565.38,218.32L566.70,213.73 M565.81,218.44L567.15,213.86 M565.38,218.32A81.23,81.23 0 0 1 565.81,218.44 M565.32,219.34L565.59,218.38 M564.68,219.16A80.23,80.23 0 0 1 565.32,219.34 M564.82,219.87L565.00,219.25 M564.09,219.67A79.58,79.58 0 0 1 564.82,219.87 M564.35,220.15L564.46,219.77 M565.65,220.53L567.60,213.99 M564.35,220.15A79.18,79.18 0 0 1 565.65,220.53 M564.75,221.21L565.00,220.34 M565.80,221.52L568.05,214.13 M564.75,221.21A78.28,78.28 0 0 1 565.80,221.52 M565.16,221.74L565.27,221.36 M562.36,220.97A77.88,77.88 0 0 1 565.16,221.74 M563.65,221.73L563.76,221.34 M561.49,221.16A77.48,77.48 0 0 1 563.65,221.73 M562.45,221.93L562.57,221.44 M560.96,221.55A76.97,76.97 0 0 1 562.45,221.93 M560.84,225.19L561.70,221.74 M564.76,226.29L568.49,214.27 M560.84,225.19A73.41,73.41 0 0 1 564.76,226.29 M561.35,230.92L562.81,225.71 M558.24,230.13A68.00,68.00 0 0 1 561.35,230.92 M562.08,233.22L562.65,231.30 M559.80,230.51A68.00,68.00 0 0 1 562.65,231.30 M587.88,278.54A48.30,48.30 0 0 1 591.18,293.03 M587.88,278.54L604.79,271.81 M600.71,263.35A66.50,66.50 0 0 1 607.32,279.53 M591.18,293.03L596.37,292.67 M596.13,290.16A53.50,53.50 0 0 1 596.49,295.28 M600.71,263.35L601.57,262.85 M595.08,253.46A67.50,67.50 0 0 1 601.57,262.85 M595.08,253.46L598.02,251.05 M587.39,240.60A71.30,71.30 0 0 1 598.02,251.05 M587.39,240.60L589.81,237.55 M577.14,229.40A75.20,75.20 0 0 1 589.81,237.55 M577.14,229.40L578.64,226.46 M569.85,222.63A78.50,78.50 0 0 1 578.64,226.46 M567.74,217.87L568.85,214.38 M568.54,218.13L569.68,214.64 M567.74,217.87A82.33,82.33 0 0 1 568.54,218.13 M567.64,219.55L568.14,218.00 M569.53,217.78L570.50,214.92 M570.33,218.05L571.33,215.20 M569.53,217.78A82.98,82.98 0 0 1 570.33,218.05 M569.80,218.30L569.93,217.92 M570.98,218.72L572.15,215.49 M569.80,218.30A82.57,82.57 0 0 1 570.98,218.72 M569.98,219.69L570.39,218.50 M571.33,220.18L572.96,215.79 M569.98,219.69A81.32,81.32 0 0 1 571.33,220.18 M570.45,220.51L570.66,219.93 M567.64,219.55A80.70,80.70 0 0 1 570.45,220.51 M568.92,220.40L569.05,220.02 M573.15,217.72L573.78,216.10 M573.95,218.03L574.59,216.41 M573.15,217.72A84.26,84.26 0 0 1 573.95,218.03 M573.41,218.25L573.55,217.88 M574.59,218.72L575.40,216.74 M573.41,218.25A83.86,83.86 0 0 1 574.59,218.72 M573.85,218.85L574.00,218.48 M575.22,219.41L576.20,217.07 M573.85,218.85A83.46,83.46 0 0 1 575.22,219.41 M573.34,222.05L574.54,219.13 M568.92,220.40A80.30,80.30 0 0 1 573.34,222.05 M570.86,221.94L571.14,221.19 M569.85,222.63L570.19,221.69 M570.19,221.69A79.50,79.50 0 0 1 570.86,221.94 M576.14,219.37L576.99,217.40 M576.91,219.71L577.78,217.75 M576.14,219.37A83.85,83.85 0 0 1 576.91,219.71 M576.26,220.16L576.53,219.54 M577.40,220.66L578.56,218.10 M576.26,220.16A83.18,83.18 0 0 1 577.40,220.66 M576.67,220.77L576.83,220.41 M578.32,220.65L579.34,218.46 M579.07,221.00L580.12,218.82 M578.32,220.65A83.58,83.58 0 0 1 579.07,221.00 M578.53,221.19L578.70,220.83 M579.65,221.73L580.89,219.20 M578.53,221.19A83.18,83.18 0 0 1 579.65,221.73 M578.92,221.82L579.09,221.46 M576.67,220.77A82.78,82.78 0 0 1 578.92,221.82 M577.62,221.66L577.79,221.29 M580.03,222.82L581.66,219.58 M577.62,221.66A82.37,82.37 0 0 1 580.03,222.82 M578.66,222.59L578.83,222.23 M580.58,223.55L582.43,219.97 M578.66,222.59A81.97,81.97 0 0 1 580.58,223.55 M579.28,223.75L579.62,223.06 M582.24,222.16L583.19,220.37 M582.98,222.55L583.94,220.77 M582.24,222.16A83.98,83.98 0 0 1 582.98,222.55 M581.30,224.79L582.61,222.35 M579.28,223.75A81.21,81.21 0 0 1 581.30,224.79 M580.11,224.62L580.30,224.26 M583.17,223.94L584.70,221.18 M584.31,223.60L585.45,221.60 M585.04,224.02L586.19,222.03 M584.31,223.60A83.70,83.70 0 0 1 585.04,224.02 M584.45,224.21L584.67,223.81 M585.52,224.84L586.93,222.47 M584.45,224.21A83.24,83.24 0 0 1 585.52,224.84 M584.78,224.86L584.99,224.52 M583.17,223.94A82.84,82.84 0 0 1 584.78,224.86 M582.97,226.17L583.98,224.40 M580.11,224.62A80.81,80.81 0 0 1 582.97,226.17 M580.93,226.53L581.55,225.38 M578.64,226.46L579.09,225.56 M579.09,225.56A79.50,79.50 0 0 1 580.93,226.53 M587.15,223.76L587.66,222.91 M588.30,223.53L588.41,223.36 M589.03,223.99L589.14,223.83 M588.30,223.53A85.80,85.80 0 0 1 589.03,223.99 M588.67,223.76L588.67,223.76 M589.76,224.46L589.87,224.30 M588.67,223.76A85.80,85.80 0 0 1 589.76,224.46 M588.79,224.79L589.22,224.11 M587.15,223.76A85.00,85.00 0 0 1 588.79,224.79 M583.47,231.48L587.97,224.27 M588.54,227.87L590.60,224.77 M589.23,228.33L591.32,225.26 M588.54,227.87A82.28,82.28 0 0 1 589.23,228.33 M588.32,228.94L588.89,228.10 M589.34,229.63L592.04,225.75 M588.32,228.94A81.27,81.27 0 0 1 589.34,229.63 M587.07,231.87L588.83,229.28 M591.82,227.55L592.75,226.25 M592.52,228.05L593.45,226.75 M591.82,227.55A84.40,84.40 0 0 1 592.52,228.05 M590.47,230.17L592.17,227.80 M592.95,228.90L594.15,227.27 M593.63,229.40L594.85,227.79 M592.95,228.90A83.97,83.97 0 0 1 593.63,229.40 M593.05,229.47L593.29,229.15 M594.06,230.24L595.54,228.32 M593.05,229.47A83.57,83.57 0 0 1 594.06,230.24 M592.29,231.51L593.56,229.85 M590.47,230.17A81.49,81.49 0 0 1 592.29,231.51 M591.15,231.16L591.39,230.84 M593.68,232.08L596.23,228.85 M595.19,231.52L596.91,229.39 M595.85,232.05L597.58,229.94 M595.19,231.52A83.27,83.27 0 0 1 595.85,232.05 M595.27,232.09L595.52,231.78 M596.54,232.53L598.25,230.50 M597.18,233.08L598.91,231.06 M596.54,232.53A83.34,83.34 0 0 1 597.18,233.08 M596.56,233.16L596.86,232.81 M595.27,232.09A82.87,82.87 0 0 1 596.56,233.16 M595.54,233.07L595.92,232.63 M597.13,234.42L599.57,231.63 M595.54,233.07A82.29,82.29 0 0 1 597.13,234.42 M596.08,234.05L596.34,233.74 M593.68,232.08A81.89,81.89 0 0 1 596.08,234.05 M594.64,233.36L594.89,233.05 M597.22,235.57L600.22,232.20 M594.64,233.36A81.49,81.49 0 0 1 597.22,235.57 M595.68,234.76L595.94,234.45 M591.15,231.16A81.09,81.09 0 0 1 595.68,234.76 M591.62,235.22L593.45,232.92 M587.07,231.87A78.15,78.15 0 0 1 591.62,235.22 M588.40,234.83L589.37,233.50 M583.47,231.48A76.50,76.50 0 0 1 588.40,234.83 M589.81,237.55L590.62,236.53 M585.97,233.11A76.50,76.50 0 0 1 590.62,236.53 M608.49,242.21L609.26,241.57 M609.65,242.37L609.81,242.25 M610.20,243.05L610.35,242.93 M609.65,242.37A85.80,85.80 0 0 1 610.20,243.05 M609.90,242.73L609.93,242.71 M610.73,243.73L610.89,243.61 M611.26,244.42L611.42,244.30 M610.73,243.73A85.80,85.80 0 0 1 611.26,244.42 M610.98,244.09L611.00,244.07 M609.90,242.73A85.77,85.77 0 0 1 610.98,244.09 M609.84,243.88L610.44,243.41 M608.49,242.21A85.00,85.00 0 0 1 609.84,243.88 M599.83,250.58L609.17,243.04 M599.42,234.37L600.87,232.78 M600.04,234.94L601.51,233.37 M599.42,234.37A83.85,83.85 0 0 1 600.04,234.94 M598.94,235.52L599.73,234.66 M600.41,235.79L602.14,233.96 M601.58,235.80L602.77,234.56 M602.19,236.39L603.39,235.17 M601.58,235.80A84.28,84.28 0 0 1 602.19,236.39 M601.60,236.38L601.88,236.09 M602.51,237.28L604.01,235.78 M601.60,236.38A83.88,83.88 0 0 1 602.51,237.28 M601.77,237.11L602.06,236.83 M600.41,235.79A83.48,83.48 0 0 1 601.77,237.11 M600.82,236.73L601.10,236.45 M602.53,238.44L604.62,236.40 M600.82,236.73A83.08,83.08 0 0 1 602.53,238.44 M601.40,237.86L601.68,237.58 M598.94,235.52A82.68,82.68 0 0 1 601.40,237.86 M594.10,243.03L600.18,236.68 M602.63,239.49L605.22,237.03 M603.21,240.10L605.82,237.66 M602.63,239.49A82.43,82.43 0 0 1 603.21,240.10 M600.97,241.64L602.92,239.80 M603.78,240.71L606.41,238.30 M605.79,240.02L606.99,238.94 M606.35,240.66L607.57,239.59 M605.79,240.02A84.38,84.38 0 0 1 606.35,240.66 M604.61,241.64L606.07,240.34 M603.78,240.71A82.43,82.43 0 0 1 604.61,241.64 M603.90,241.44L604.20,241.17 M605.13,242.84L608.14,240.25 M603.90,241.44A82.03,82.03 0 0 1 605.13,242.84 M603.43,243.09L604.52,242.13 M604.56,244.40L608.70,240.91 M603.43,243.09A80.58,80.58 0 0 1 604.56,244.40 M603.37,244.29L604.00,243.75 M600.97,241.64A79.74,79.74 0 0 1 603.37,244.29 M597.84,246.88L602.18,242.95 M594.10,243.03A73.89,73.89 0 0 1 597.84,246.88 M595.37,245.54L596.00,244.92 M595.37,245.54A73.00,73.00 0 0 1 599.83,250.58 M598.02,251.05L599.33,249.97 M597.65,248.01A73.00,73.00 0 0 1 599.33,249.97 M610.66,252.94L615.36,249.92 M612.51,252.72L615.82,250.64 M612.95,253.41L616.27,251.37 M612.51,252.72A82.10,82.10 0 0 1 612.95,253.41 M611.64,253.74L612.73,253.06 M613.31,254.15L616.72,252.11 M614.62,254.33L617.16,252.85 M615.04,255.05L617.59,253.59 M614.62,254.33A83.06,83.06 0 0 1 615.04,255.05 M614.48,254.89L614.83,254.69 M615.10,255.97L618.01,254.34 M614.48,254.89A82.66,82.66 0 0 1 615.10,255.97 M614.24,255.75L614.79,255.43 M613.31,254.15A82.03,82.03 0 0 1 614.24,255.75 M612.74,255.56L613.78,254.95 M611.64,253.74A80.82,80.82 0 0 1 612.74,255.56 M611.85,254.85L612.19,254.65 M610.66,252.94A80.42,80.42 0 0 1 611.85,254.85 M602.42,259.40L611.26,253.89 M609.76,246.61L611.94,244.98 M610.57,247.04L612.45,245.67 M611.06,247.72L612.95,246.37 M610.57,247.04A83.68,83.68 0 0 1 611.06,247.72 M610.49,247.62L610.82,247.38 M609.76,246.61A83.28,83.28 0 0 1 610.49,247.62 M609.80,247.35L610.13,247.11 M612.08,248.03L613.45,247.07 M612.56,248.72L613.94,247.78 M612.08,248.03A84.33,84.33 0 0 1 612.56,248.72 M611.79,248.75L612.32,248.38 M612.49,249.78L614.42,248.49 M611.79,248.75A83.68,83.68 0 0 1 612.49,249.78 M611.81,249.49L612.14,249.26 M612.62,250.70L614.89,249.21 M611.81,249.49A83.28,83.28 0 0 1 612.62,250.70 M611.89,250.31L612.22,250.09 M609.80,247.35A82.88,82.88 0 0 1 611.89,250.31 M600.32,256.21L610.86,248.82 M600.32,256.21A70.00,70.00 0 0 1 602.42,259.40 M601.57,262.85L603.74,261.61 M601.39,257.79A70.00,70.00 0 0 1 603.74,261.61 M615.42,256.75L618.43,255.10 M615.83,257.49L618.85,255.88 M615.42,256.75A82.57,82.57 0 0 1 615.83,257.49 M615.03,257.44L615.63,257.12 M615.62,258.56L619.27,256.66 M615.03,257.44A81.89,81.89 0 0 1 615.62,258.56 M613.62,258.91L615.33,258.00 M616.48,259.06L619.67,257.44 M617.43,259.54L620.06,258.23 M617.80,260.30L620.45,259.02 M617.43,259.54A83.06,83.06 0 0 1 617.80,260.30 M617.05,260.20L617.62,259.92 M616.48,259.06A82.42,82.42 0 0 1 617.05,260.20 M614.55,260.73L616.77,259.63 M613.62,258.91A79.95,79.95 0 0 1 614.55,260.73 M613.73,260.00L614.09,259.82 M615.00,262.56L620.83,259.82 M613.73,260.00A79.55,79.55 0 0 1 615.00,262.56 M604.91,265.93L614.38,261.27 M625.78,273.99L626.01,273.93 M626.04,274.83L626.24,274.78 M626.26,275.68L626.46,275.63 M626.04,274.83A85.80,85.80 0 0 1 626.26,275.68 M626.12,275.27L626.15,275.26 M625.78,273.99A85.76,85.76 0 0 1 626.12,275.27 M625.21,274.82L625.95,274.63 M626.47,276.54L626.66,276.49 M626.67,277.39L626.86,277.35 M626.47,276.54A85.80,85.80 0 0 1 626.67,277.39 M625.79,277.15L626.57,276.96 M625.21,274.82A85.00,85.00 0 0 1 625.79,277.15 M611.70,279.40L625.51,275.98 M618.47,261.88L621.21,260.63 M619.18,262.49L621.57,261.43 M619.53,263.28L621.92,262.24 M619.18,262.49A83.39,83.39 0 0 1 619.53,263.28 M618.99,263.05L619.36,262.89 M618.47,261.88A82.99,82.99 0 0 1 618.99,263.05 M608.85,266.89L618.73,262.46 M624.83,270.59L625.02,270.53 M625.09,271.43L625.28,271.37 M624.83,270.59A85.80,85.80 0 0 1 625.09,271.43 M624.19,271.25L624.96,271.01 M625.34,272.27L625.53,272.22 M625.58,273.12L625.77,273.06 M625.34,272.27A85.80,85.80 0 0 1 625.58,273.12 M624.69,272.92L625.46,272.70 M624.19,271.25A85.00,85.00 0 0 1 624.69,272.92 M613.40,275.38L624.45,272.08 M618.42,264.68L622.28,263.06 M619.11,265.31L622.61,263.88 M619.80,265.94L622.94,264.69 M621.32,266.26L623.26,265.52 M621.62,267.07L623.58,266.34 M621.32,266.26A83.91,83.91 0 0 1 621.62,267.07 M620.26,267.13L621.47,266.67 M619.80,265.94A82.62,82.62 0 0 1 620.26,267.13 M619.66,266.68L620.03,266.53 M619.11,265.31A82.22,82.22 0 0 1 619.66,266.68 M619.01,266.14L619.39,265.99 M618.42,264.68A81.82,81.82 0 0 1 619.01,266.14 M612.65,267.89L618.72,265.41 M620.49,268.41L623.88,267.18 M620.77,269.20L624.18,268.01 M620.49,268.41A82.39,82.39 0 0 1 620.77,269.20 M620.25,268.94L620.63,268.80 M620.67,270.13L624.47,268.84 M620.25,268.94A81.99,81.99 0 0 1 620.67,270.13 M618.90,270.07L620.46,269.53 M619.36,271.44L624.74,269.68 M618.90,270.07A80.34,80.34 0 0 1 619.36,271.44 M614.32,272.38L619.13,270.76 M612.65,267.89A75.26,75.26 0 0 1 614.32,272.38 M611.84,270.75L613.52,270.12 M611.84,270.75A73.47,73.47 0 0 1 613.40,275.38 M611.42,273.47L612.66,273.05 M608.85,266.89A72.16,72.16 0 0 1 611.42,273.47 M608.93,270.65L610.22,270.15 M608.93,270.65A70.78,70.78 0 0 1 611.70,279.40 M608.76,275.52L610.46,274.98 M604.91,265.93A69.00,69.00 0 0 1 608.76,275.52 M607.32,279.53L609.74,278.89 M607.02,270.65A69.00,69.00 0 0 1 609.74,278.89 M596.13,290.16L606.17,288.98 M624.98,285.39L628.24,284.96 M625.48,286.16L628.35,285.81 M625.58,286.99L628.45,286.66 M625.48,286.16A83.12,83.12 0 0 1 625.58,286.99 M625.14,286.62L625.53,286.58 M624.98,285.39A82.72,82.72 0 0 1 625.14,286.62 M624.58,286.07L625.06,286.01 M625.59,287.82L628.54,287.52 M625.67,288.65L628.62,288.37 M625.59,287.82A83.03,83.03 0 0 1 625.67,288.65 M625.23,288.28L625.63,288.24 M625.35,289.51L628.70,289.23 M625.23,288.28A82.63,82.63 0 0 1 625.35,289.51 M624.89,288.93L625.29,288.89 M624.58,286.07A82.23,82.23 0 0 1 624.89,288.93 M608.61,289.26L624.75,287.50 M624.07,278.85L627.05,278.20 M624.24,279.66L627.23,279.04 M624.07,278.85A82.94,82.94 0 0 1 624.24,279.66 M623.76,279.33L624.15,279.25 M624.01,280.55L627.40,279.88 M623.76,279.33A82.54,82.54 0 0 1 624.01,280.55 M622.93,280.14L623.89,279.94 M625.34,281.14L627.56,280.73 M625.89,281.89L627.71,281.57 M626.03,282.72L627.86,282.42 M625.89,281.89A84.15,84.15 0 0 1 626.03,282.72 M625.56,282.37L625.96,282.31 M625.34,281.14A83.75,83.75 0 0 1 625.56,282.37 M623.31,282.14L625.46,281.76 M622.93,280.14A81.57,81.57 0 0 1 623.31,282.14 M622.73,281.21L623.12,281.14 M623.21,284.01L627.99,283.27 M622.73,281.21A81.17,81.17 0 0 1 623.21,284.01 M609.43,284.94L622.98,282.61 M609.72,286.77L628.12,284.11 M609.43,284.94A67.41,67.41 0 0 1 609.72,286.77 M608.19,286.08L609.58,285.86 M608.19,286.08A66.00,66.00 0 0 1 608.61,289.26 M606.17,288.98L608.55,288.70 M608.42,287.66A66.00,66.00 0 0 1 608.55,288.70 M624.58,290.40L628.77,290.09 M625.84,291.16L628.83,290.97 M625.88,292.01L628.88,291.85 M625.84,291.16A83.00,83.00 0 0 1 625.88,292.01 M625.46,291.61L625.86,291.58 M626.40,292.83L628.92,292.72 M626.43,293.68L628.95,293.60 M626.40,292.83A83.47,83.47 0 0 1 626.43,293.68 M625.94,293.28L626.41,293.26 M625.98,294.55L628.98,294.48 M625.94,293.28A83.00,83.00 0 0 1 625.98,294.55 M625.56,293.92L625.96,293.91 M625.46,291.61A82.60,82.60 0 0 1 625.56,293.92 M625.12,292.78L625.52,292.76 M625.20,295.40L628.99,295.36 M625.12,292.78A82.20,82.20 0 0 1 625.20,295.40 M624.77,294.10L625.17,294.09 M624.58,290.40A81.80,81.80 0 0 1 624.77,294.10 M612.91,292.85L624.70,292.25 M596.49,295.28L612.98,294.93 M612.91,292.85A70.00,70.00 0 0 1 612.98,294.93 M516.80,295.94L494.31,295.55 M501.88,322.49A48.70,48.70 0 0 1 502.63,269.17 M502.63,269.17L489.11,260.05 M469.86,254.73L468.28,253.83 M470.11,254.30L468.53,253.39 M469.86,254.73A84.18,84.18 0 0 1 470.11,254.30 M485.05,263.16L469.98,254.51 M478.17,258.44L468.79,252.94 M472.62,254.63L469.05,252.50 M470.89,253.01L469.31,252.06 M471.15,252.58L469.58,251.63 M470.89,253.01A84.16,84.16 0 0 1 471.15,252.58 M471.84,253.30L471.02,252.80 M472.23,252.66L469.84,251.19 M471.84,253.30A83.20,83.20 0 0 1 472.23,252.66 M473.19,253.69L472.03,252.98 M472.62,254.63A81.84,81.84 0 0 1 473.19,253.69 M474.57,255.16L472.91,254.16 M471.51,251.63L470.11,250.75 M471.78,251.21L470.39,250.32 M471.51,251.63A84.35,84.35 0 0 1 471.78,251.21 M472.20,251.77L471.65,251.42 M472.60,251.14L470.66,249.89 M472.20,251.77A83.69,83.69 0 0 1 472.60,251.14 M475.60,253.49L472.40,251.45 M474.57,255.16A79.90,79.90 0 0 1 475.60,253.49 M475.42,254.53L475.08,254.32 M476.39,253.01L470.94,249.46 M475.42,254.53A79.50,79.50 0 0 1 476.39,253.01 M478.92,255.69L475.90,253.77 M472.76,250.05L471.22,249.03 M473.04,249.63L471.50,248.61 M472.76,250.05A84.15,84.15 0 0 1 473.04,249.63 M473.52,250.25L472.90,249.84 M473.93,249.63L471.79,248.18 M473.52,250.25A83.41,83.41 0 0 1 473.93,249.63 M474.39,250.39L473.72,249.94 M474.88,249.68L472.08,247.76 M474.39,250.39A82.61,82.61 0 0 1 474.88,249.68 M480.17,253.79L474.63,250.03 M478.92,255.69A75.92,75.92 0 0 1 480.17,253.79 M479.87,254.95L479.53,254.73 M473.97,248.45L472.37,247.34 M474.25,248.04L472.66,246.92 M473.97,248.45A84.05,84.05 0 0 1 474.25,248.04 M481.10,253.13L474.11,248.24 M479.87,254.95A75.52,75.52 0 0 1 481.10,253.13 M480.81,254.26L480.48,254.04 M478.17,258.44A75.12,75.12 0 0 1 480.81,254.26 M482.83,258.46L479.46,256.33 M475.09,248.02L472.96,246.50 M474.84,247.23L473.25,246.09 M475.14,246.83L473.56,245.67 M474.84,247.23A84.04,84.04 0 0 1 475.14,246.83 M475.53,247.42L474.99,247.03 M475.09,248.02A83.38,83.38 0 0 1 475.53,247.42 M485.25,254.87L475.31,247.72 M482.83,258.46A71.13,71.13 0 0 1 485.25,254.87 M487.60,259.06L484.02,256.65 M485.05,263.16A66.80,66.80 0 0 1 487.60,259.06 M486.97,261.51L486.29,261.09 M475.04,246.13L473.86,245.26 M475.34,245.73L474.16,244.85 M475.04,246.13A84.53,84.53 0 0 1 475.34,245.73 M490.05,256.99L475.19,245.93 M486.97,261.51A66.00,66.00 0 0 1 490.05,256.99 M489.11,260.05L488.28,259.49 M488.28,259.49A66.00,66.00 0 0 1 488.47,259.22 M501.84,322.42L492.62,328.25 M556.96,354.55A59.80,59.80 0 0 1 484.51,283.97 M484.60,283.99L474.53,281.85 M473.00,295.79A70.00,70.00 0 0 1 480.63,264.62 M473.00,295.79L467.70,295.74 M470.48,256.93L467.46,255.29 M470.88,256.20L467.88,254.53 M470.48,256.93A82.56,82.56 0 0 1 470.88,256.20 M472.83,257.75L470.68,256.57 M473.42,256.69L468.31,253.77 M472.83,257.75A80.11,80.11 0 0 1 473.42,256.69 M478.45,260.21L473.13,257.22 M466.02,275.36L460.04,273.73 M462.92,273.64L460.28,272.89 M463.15,272.84L460.52,272.06 M462.92,273.64A83.25,83.25 0 0 1 463.15,272.84 M463.78,273.45L463.04,273.24 M463.71,272.13L460.77,271.23 M463.96,271.33L461.02,270.40 M463.71,272.13A82.92,82.92 0 0 1 463.96,271.33 M464.25,271.86L463.83,271.73 M463.78,273.45A82.48,82.48 0 0 1 464.25,271.86 M466.58,273.43L464.01,272.66 M466.02,275.36A79.80,79.80 0 0 1 466.58,273.43 M470.79,275.68L466.30,274.39 M463.78,270.40L461.29,269.58 M464.04,269.60L461.56,268.76 M463.78,270.40A83.38,83.38 0 0 1 464.04,269.60 M468.01,271.37L463.91,270.00 M463.56,268.54L461.85,267.94 M463.84,267.74L462.14,267.12 M463.56,268.54A84.19,84.19 0 0 1 463.84,267.74 M467.43,269.47L463.70,268.14 M465.39,267.41L462.44,266.31 M465.68,266.63L462.74,265.50 M465.39,267.41A82.85,82.85 0 0 1 465.68,266.63 M467.99,267.95L465.53,267.02 M467.43,269.47A80.23,80.23 0 0 1 467.99,267.95 M468.80,269.11L467.70,268.71 M468.01,271.37A79.05,79.05 0 0 1 468.80,269.11 M470.58,271.00L468.40,270.24 M469.34,260.99L465.49,259.14 M467.81,259.32L465.87,258.36 M468.19,258.57L466.26,257.59 M467.81,259.32A83.83,83.83 0 0 1 468.19,258.57 M469.88,259.88L468.00,258.94 M469.34,260.99A81.73,81.73 0 0 1 469.88,259.88 M470.68,260.96L469.61,260.44 M468.90,257.98L466.65,256.82 M469.29,257.24L467.05,256.05 M468.90,257.98A83.46,83.46 0 0 1 469.29,257.24 M471.69,258.97L469.10,257.61 M470.68,260.96A80.53,80.53 0 0 1 471.69,258.97 M472.88,260.83L471.18,259.97 M464.51,265.27L463.06,264.69 M464.82,264.48L463.38,263.89 M464.51,265.27A84.44,84.44 0 0 1 464.82,264.48 M468.18,266.29L464.66,264.87 M468.27,265.01L463.71,263.09 M466.44,263.32L464.05,262.29 M466.77,262.55L464.40,261.50 M466.44,263.32A83.40,83.40 0 0 1 466.77,262.55 M466.97,263.10L466.60,262.94 M467.12,261.79L464.76,260.71 M467.47,261.02L465.12,259.92 M467.12,261.79A83.40,83.40 0 0 1 467.47,261.02 M467.66,261.57L467.29,261.40 M466.97,263.10A83.00,83.00 0 0 1 467.66,261.57 M469.09,263.13L467.31,262.33 M468.27,265.01A81.06,81.06 0 0 1 469.09,263.13 M469.04,264.23L468.67,264.07 M468.18,266.29A80.66,80.66 0 0 1 469.04,264.23 M470.47,266.04L468.60,265.25 M470.47,266.04A78.63,78.63 0 0 1 472.88,260.83 M473.34,264.20L471.63,263.41 M470.58,271.00A76.75,76.75 0 0 1 473.34,264.20 M473.38,268.18L471.88,267.57 M470.79,275.68A75.13,75.13 0 0 1 473.38,268.18 M473.05,272.26L471.98,271.89 M473.05,272.26A74.00,74.00 0 0 1 478.45,260.21 M480.63,264.62L477.07,262.80 M475.48,266.11A74.00,74.00 0 0 1 477.07,262.80 M461.66,317.74L459.82,318.23 M461.45,316.91L459.60,317.38 M461.66,317.74A84.09,84.09 0 0 1 461.45,316.91 M464.57,316.55L461.55,317.33 M461.06,316.12L459.39,316.52 M460.86,315.28L459.19,315.66 M461.06,316.12A84.28,84.28 0 0 1 460.86,315.28 M464.18,314.94L460.96,315.70 M464.57,316.55A80.97,80.97 0 0 1 464.18,314.94 M467.74,314.92L464.37,315.75 M463.84,278.21L459.19,277.14 M461.92,276.89L459.39,276.28 M462.12,276.06L459.60,275.42 M461.92,276.89A83.40,83.40 0 0 1 462.12,276.06 M463.74,276.90L462.02,276.47 M464.05,275.68L459.82,274.57 M463.74,276.90A81.62,81.62 0 0 1 464.05,275.68 M464.28,276.39L463.90,276.29 M463.84,278.21A81.22,81.22 0 0 1 464.28,276.39 M467.17,278.05L464.06,277.30 M460.45,314.47L458.99,314.79 M460.26,313.63L458.81,313.93 M460.45,314.47A84.51,84.51 0 0 1 460.26,313.63 M460.75,313.97L460.35,314.05 M460.49,312.70L458.63,313.07 M460.75,313.97A84.11,84.11 0 0 1 460.49,312.70 M461.00,313.26L460.61,313.34 M460.72,311.78L458.46,312.20 M461.00,313.26A83.71,83.71 0 0 1 460.72,311.78 M463.33,312.03L460.86,312.52 M463.05,310.50L458.31,311.34 M463.33,312.03A81.19,81.19 0 0 1 463.05,310.50 M465.35,310.87L463.19,311.27 M461.08,309.97L458.16,310.46 M460.94,309.13L458.02,309.59 M461.08,309.97A83.04,83.04 0 0 1 460.94,309.13 M461.40,309.49L461.01,309.55 M461.21,308.23L457.89,308.71 M461.40,309.49A82.64,82.64 0 0 1 461.21,308.23 M461.70,308.80L461.30,308.86 M460.30,307.50L457.76,307.84 M460.19,306.65L457.65,306.96 M460.30,307.50A83.44,83.44 0 0 1 460.19,306.65 M460.64,307.02L460.25,307.07 M460.49,305.75L457.55,306.09 M460.64,307.02A83.04,83.04 0 0 1 460.49,305.75 M460.96,306.34L460.56,306.39 M460.07,304.94L457.45,305.21 M459.99,304.09L457.37,304.33 M460.07,304.94A83.37,83.37 0 0 1 459.99,304.09 M460.75,304.44L460.03,304.51 M460.96,306.34A82.64,82.64 0 0 1 460.75,304.44 M461.25,305.35L460.85,305.39 M461.70,308.80A82.24,82.24 0 0 1 461.25,305.35 M461.85,307.03L461.46,307.08 M459.36,303.28L457.29,303.45 M459.30,302.42L457.22,302.57 M459.36,303.28A83.92,83.92 0 0 1 459.30,302.42 M461.00,302.72L459.33,302.85 M459.72,301.53L457.16,301.69 M459.67,300.68L457.11,300.81 M459.72,301.53A83.44,83.44 0 0 1 459.67,300.68 M460.09,301.08L459.69,301.11 M460.03,299.81L457.07,299.93 M460.09,301.08A83.04,83.04 0 0 1 460.03,299.81 M460.46,300.43L460.06,300.45 M460.40,298.94L457.04,299.05 M460.46,300.43A82.64,82.64 0 0 1 460.40,298.94 M460.82,299.67L460.43,299.68 M461.00,302.72A82.24,82.24 0 0 1 460.82,299.67 M461.30,301.17L460.90,301.20 M461.85,307.03A81.84,81.84 0 0 1 461.30,301.17 M461.92,304.07L461.52,304.10 M459.62,298.11L457.02,298.16 M459.21,297.26L457.00,297.28 M459.20,296.40L457.00,296.40 M459.21,297.26A83.80,83.80 0 0 1 459.20,296.40 M459.60,296.83L459.20,296.83 M459.62,298.11A83.40,83.40 0 0 1 459.60,296.83 M460.01,297.46L459.61,297.47 M459.61,295.54L457.00,295.52 M459.62,294.69L457.02,294.63 M459.61,295.54A83.40,83.40 0 0 1 459.62,294.69 M460.01,295.12L459.61,295.12 M460.01,297.46A83.00,83.00 0 0 1 460.01,295.12 M460.76,296.29L460.00,296.29 M460.40,293.86L457.04,293.75 M460.03,292.99L457.07,292.87 M459.67,292.12L457.11,291.99 M459.72,291.26L457.16,291.11 M459.67,292.12A83.44,83.44 0 0 1 459.72,291.26 M460.09,291.71L459.69,291.69 M460.03,292.99A83.04,83.04 0 0 1 460.09,291.71 M460.46,292.37L460.06,292.35 M460.40,293.86A82.64,82.64 0 0 1 460.46,292.37 M460.82,293.13L460.43,293.11 M460.76,296.29A82.24,82.24 0 0 1 460.82,293.13 M461.18,294.72L460.78,294.71 M459.38,290.38L457.22,290.23 M459.04,289.49L457.29,289.35 M458.72,288.59L457.37,288.47 M458.81,287.73L457.45,287.59 M458.72,288.59A84.64,84.64 0 0 1 458.81,287.73 M459.16,288.20L458.76,288.16 M459.04,289.49A84.24,84.24 0 0 1 459.16,288.20 M459.50,288.88L459.10,288.84 M459.38,290.38A83.84,83.84 0 0 1 459.50,288.88 M459.83,289.66L459.43,289.63 M459.69,286.95L457.55,286.71 M459.79,286.10L457.65,285.83 M459.69,286.95A83.84,83.84 0 0 1 459.79,286.10 M460.14,286.57L459.74,286.53 M459.83,289.66A83.44,83.44 0 0 1 460.14,286.57 M460.37,288.16L459.97,288.12 M459.91,285.25L457.76,284.96 M460.02,284.39L457.89,284.09 M459.91,285.25A83.84,83.84 0 0 1 460.02,284.39 M460.36,284.88L459.96,284.82 M460.55,283.60L458.02,283.21 M460.36,284.88A83.44,83.44 0 0 1 460.55,283.60 M460.85,284.30L460.45,284.24 M460.37,288.16A83.04,83.04 0 0 1 460.85,284.30 M460.98,286.27L460.59,286.22 M461.47,282.89L458.16,282.34 M460.98,286.27A82.64,82.64 0 0 1 461.47,282.89 M461.61,284.64L461.21,284.58 M461.22,281.98L458.31,281.47 M461.37,281.15L458.46,280.60 M461.22,281.98A83.04,83.04 0 0 1 461.37,281.15 M461.69,281.64L461.30,281.57 M461.53,280.31L458.63,279.74 M461.31,279.39L458.81,278.87 M461.49,278.56L458.99,278.01 M461.31,279.39A83.44,83.44 0 0 1 461.49,278.56 M461.79,279.06L461.40,278.97 M461.53,280.31A83.04,83.04 0 0 1 461.79,279.06 M462.05,279.76L461.66,279.68 M461.69,281.64A82.64,82.64 0 0 1 462.05,279.76 M462.26,280.77L461.87,280.70 M461.61,284.64A82.24,82.24 0 0 1 462.26,280.77 M462.30,282.77L461.91,282.70 M461.18,294.72A81.84,81.84 0 0 1 462.30,282.77 M461.92,288.76L461.52,288.72 M461.92,304.07A81.44,81.44 0 0 1 461.92,288.76 M464.02,296.41L461.56,296.41 M465.35,310.87A78.98,78.98 0 0 1 464.02,296.41 M465.31,303.58L464.35,303.67 M465.31,303.58A78.02,78.02 0 0 1 467.17,278.05 M465.70,290.78L465.19,290.74 M467.74,314.92A77.50,77.50 0 0 1 465.70,290.78 M467.70,295.74L465.50,295.72 M465.78,302.93A77.50,77.50 0 0 1 465.50,295.72 M557.08,355.03L559.46,364.95 M582.42,354.85A70.50,70.50 0 0 1 534.77,366.42 M535.26,366.47L533.56,381.88 M534.41,366.37L532.52,381.76 M582.42,354.85L585.16,358.91 M612.91,324.65A75.40,75.40 0 0 1 561.24,369.56 M586.79,362.04L590.72,367.94 M587.94,365.29L589.99,368.43 M588.32,367.43L589.25,368.90 M587.59,367.89L588.51,369.37 M588.32,367.43A84.26,84.26 0 0 1 587.59,367.89 M586.88,365.97L587.95,367.67 M587.94,365.29A82.25,82.25 0 0 1 586.88,365.97 M587.20,365.29L587.41,365.63 M585.60,366.29L587.76,369.83 M587.20,365.29A81.85,81.85 0 0 1 585.60,366.29 M584.84,363.30L586.40,365.80 M586.79,362.04A78.91,78.91 0 0 1 584.84,363.30 M584.78,361.08L585.82,362.68 M586.02,368.64L587.00,370.29 M585.28,369.08L586.25,370.74 M586.02,368.64A84.08,84.08 0 0 1 585.28,369.08 M584.40,366.73L585.65,368.86 M583.32,367.35L585.49,371.17 M584.40,366.73A81.61,81.61 0 0 1 583.32,367.35 M582.65,364.95L583.86,367.04 M583.42,369.25L584.72,371.60 M582.67,369.66L583.95,372.02 M583.42,369.25A83.31,83.31 0 0 1 582.67,369.66 M581.06,365.84L583.04,369.45 M582.65,364.95A79.19,79.19 0 0 1 581.06,365.84 M581.42,364.62L581.86,365.40 M540.87,380.42L540.82,382.37 M540.01,380.39L539.94,382.35 M540.87,380.42A84.04,84.04 0 0 1 540.01,380.39 M540.47,379.46L540.44,380.41 M539.20,379.41L539.07,382.31 M540.47,379.46A83.09,83.09 0 0 1 539.20,379.41 M539.94,376.64L539.84,379.43 M538.51,376.57L538.19,382.27 M539.94,376.64A80.29,80.29 0 0 1 538.51,376.57 M539.26,375.81L539.23,376.60 M581.29,368.88L583.17,372.44 M581.48,371.09L582.39,372.85 M580.72,371.48L581.61,373.25 M581.48,371.09A84.02,84.02 0 0 1 580.72,371.48 M580.92,370.93L581.10,371.28 M579.77,371.50L580.82,373.64 M580.92,370.93A83.62,83.62 0 0 1 579.77,371.50 M580.15,370.82L580.35,371.22 M578.81,371.47L580.03,374.02 M580.15,370.82A83.17,83.17 0 0 1 578.81,371.47 M579.30,370.79L579.48,371.15 M578.04,371.83L579.23,374.40 M577.60,372.92L578.43,374.76 M576.81,373.27L577.63,375.12 M577.60,372.92A83.97,83.97 0 0 1 576.81,373.27 M577.04,372.73L577.20,373.09 M576.14,373.89L576.82,375.47 M575.35,374.22L576.01,375.81 M576.14,373.89A84.28,84.28 0 0 1 575.35,374.22 M575.47,373.41L575.75,374.06 M577.04,372.73A83.57,83.57 0 0 1 575.47,373.41 M576.10,372.70L576.26,373.07 M578.04,371.83A83.17,83.17 0 0 1 576.10,372.70 M576.91,371.91L577.07,372.27 M579.30,370.79A82.77,82.77 0 0 1 576.91,371.91 M577.94,371.00L578.11,371.36 M574.14,373.53L575.20,376.15 M573.64,374.58L574.38,376.47 M572.84,374.89L573.56,376.79 M573.64,374.58A83.97,83.97 0 0 1 572.84,374.89 M573.10,374.37L573.24,374.74 M571.90,374.82L572.74,377.10 M573.10,374.37A83.57,83.57 0 0 1 571.90,374.82 M572.36,374.22L572.50,374.60 M574.14,373.53A83.17,83.17 0 0 1 572.36,374.22 M573.10,373.51L573.25,373.88 M570.96,374.73L571.91,377.40 M570.16,375.02L571.08,377.69 M570.96,374.73A83.17,83.17 0 0 1 570.16,375.02 M570.43,374.50L570.56,374.88 M573.10,373.51A82.77,82.77 0 0 1 570.43,374.50 M571.63,373.64L571.77,374.01 M577.94,371.00A82.37,82.37 0 0 1 571.63,373.64 M574.66,372.01L574.81,372.38 M581.29,368.88A81.97,81.97 0 0 1 574.66,372.01 M577.84,370.16L578.01,370.52 M569.35,375.29L570.25,377.97 M568.54,375.55L569.41,378.24 M569.35,375.29A83.17,83.17 0 0 1 568.54,375.55 M568.82,375.04L568.95,375.42 M567.97,376.58L568.57,378.51 M567.15,376.83L567.73,378.77 M567.97,376.58A83.97,83.97 0 0 1 567.15,376.83 M567.44,376.32L567.56,376.70 M566.22,376.68L566.89,379.02 M567.44,376.32A83.57,83.57 0 0 1 566.22,376.68 M566.72,376.12L566.83,376.50 M565.55,377.49L566.04,379.26 M564.72,377.72L565.20,379.49 M565.55,377.49A84.17,84.17 0 0 1 564.72,377.72 M564.88,376.65L565.14,377.61 M566.72,376.12A83.17,83.17 0 0 1 564.88,376.65 M565.69,376.00L565.80,376.39 M568.82,375.04A82.77,82.77 0 0 1 565.69,376.00 M567.14,375.16L567.26,375.54 M563.54,376.58L564.35,379.71 M562.82,377.18L563.49,379.92 M562.25,378.47L562.64,380.13 M561.41,378.66L561.78,380.32 M562.25,378.47A84.29,84.29 0 0 1 561.41,378.66 M561.58,377.47L561.83,378.56 M562.82,377.18A83.17,83.17 0 0 1 561.58,377.47 M562.11,376.94L562.20,377.33 M563.54,376.58A82.77,82.77 0 0 1 562.11,376.94 M562.73,376.38L562.83,376.76 M567.14,375.16A82.37,82.37 0 0 1 562.73,376.38 M564.84,375.41L564.95,375.80 M560.33,377.75L560.92,380.51 M559.66,378.71L560.06,380.69 M558.82,378.87L559.20,380.86 M559.66,378.71A83.97,83.97 0 0 1 558.82,378.87 M559.16,378.40L559.24,378.79 M557.90,378.64L558.33,381.02 M559.16,378.40A83.57,83.57 0 0 1 557.90,378.64 M558.46,378.13L558.53,378.52 M560.33,377.75A83.17,83.17 0 0 1 558.46,378.13 M559.32,377.55L559.40,377.94 M556.99,378.39L557.47,381.17 M556.34,379.71L556.60,381.32 M555.49,379.84L555.73,381.45 M556.34,379.71A84.37,84.37 0 0 1 555.49,379.84 M555.86,379.38L555.92,379.78 M554.64,379.97L554.86,381.58 M553.78,380.08L553.99,381.70 M554.64,379.97A84.37,84.37 0 0 1 553.78,380.08 M554.16,379.63L554.21,380.03 M555.86,379.38A83.97,83.97 0 0 1 554.16,379.63 M554.95,379.12L555.01,379.51 M552.83,379.39L553.12,381.80 M554.95,379.12A83.57,83.57 0 0 1 552.83,379.39 M553.84,378.86L553.89,379.26 M556.99,378.39A83.17,83.17 0 0 1 553.84,378.86 M555.36,378.25L555.42,378.64 M559.32,377.55A82.77,82.77 0 0 1 555.36,378.25 M557.27,377.53L557.34,377.92 M551.98,379.49L552.24,381.90 M551.29,381.17L551.37,381.99 M550.46,381.65L550.49,382.07 M549.58,381.72L549.62,382.15 M550.46,381.65A85.57,85.57 0 0 1 549.58,381.72 M549.99,381.29L550.02,381.69 M551.29,381.17A85.17,85.17 0 0 1 549.99,381.29 M550.60,380.83L550.64,381.23 M548.66,380.99L548.74,382.21 M550.60,380.83A84.77,84.77 0 0 1 548.66,380.99 M549.60,380.52L549.63,380.91 M547.79,381.04L547.86,382.26 M546.93,381.08L546.98,382.31 M547.79,381.04A84.77,84.77 0 0 1 546.93,381.08 M547.34,380.66L547.36,381.06 M549.60,380.52A84.37,84.37 0 0 1 547.34,380.66 M548.44,380.20L548.47,380.60 M546.03,380.32L546.10,382.34 M548.44,380.20A83.97,83.97 0 0 1 546.03,380.32 M547.22,379.87L547.24,380.27 M551.98,379.49A83.57,83.57 0 0 1 547.22,379.87 M549.57,379.31L549.60,379.71 M545.15,379.55L545.23,382.37 M549.57,379.31A83.17,83.17 0 0 1 545.15,379.55 M547.34,379.06L547.36,379.46 M544.31,380.33L544.35,382.39 M543.46,380.34L543.47,382.40 M544.31,380.33A83.94,83.94 0 0 1 543.46,380.34 M543.88,379.94L543.89,380.34 M542.60,380.34L542.59,382.40 M541.74,380.33L541.71,382.39 M542.60,380.34A83.94,83.94 0 0 1 541.74,380.33 M542.17,379.94L542.17,380.34 M543.88,379.94A83.54,83.54 0 0 1 542.17,379.94 M543.03,379.17L543.03,379.94 M547.34,379.06A82.77,82.77 0 0 1 543.03,379.17 M545.17,378.75L545.19,379.15 M557.27,377.53A82.37,82.37 0 0 1 545.17,378.75 M551.21,377.96L551.25,378.36 M564.84,375.41A81.97,81.97 0 0 1 551.21,377.96 M558.00,376.58L558.08,376.98 M577.84,370.16A81.57,81.57 0 0 1 558.00,376.58 M567.49,372.03L568.13,374.01 M567.49,372.03A79.49,79.49 0 0 1 539.26,375.81 M553.39,374.00L553.55,375.19 M581.42,364.62A78.29,78.29 0 0 1 553.39,374.00 M567.44,369.42L567.85,370.64 M584.78,361.08A77.00,77.00 0 0 1 567.44,369.42 M561.24,369.56L561.63,371.11 M576.37,365.79A77.00,77.00 0 0 1 561.63,371.11 M613.93,325.06A76.50,76.50 0 0 1 592.17,355.00 M591.47,354.16L592.17,355.00 M621.41,322.23L624.68,323.31 M621.14,323.03L624.40,324.14 M621.41,322.23A82.55,82.55 0 0 1 621.14,323.03 M618.34,321.65L621.28,322.63 M621.77,324.13L624.12,324.96 M621.86,325.06L623.83,325.78 M621.57,325.86L623.53,326.59 M621.86,325.06A83.91,83.91 0 0 1 621.57,325.86 M621.34,325.32L621.71,325.46 M621.77,324.13A83.51,83.51 0 0 1 621.34,325.32 M621.18,324.59L621.56,324.73 M620.52,326.36L623.22,327.40 M621.18,324.59A83.11,83.11 0 0 1 620.52,326.36 M620.48,325.34L620.85,325.48 M619.84,327.00L622.90,328.21 M620.48,325.34A82.71,82.71 0 0 1 619.84,327.00 M617.14,325.00L620.16,326.17 M618.34,321.65A79.46,79.46 0 0 1 617.14,325.00 M615.91,322.67L617.76,323.33 M624.79,317.07L626.38,317.47 M624.57,317.90L626.16,318.31 M624.79,317.07A84.36,84.36 0 0 1 624.57,317.90 M620.48,316.40L624.68,317.48 M623.91,318.60L625.94,319.15 M624.06,319.52L625.70,319.99 M623.82,320.34L625.46,320.83 M624.06,319.52A84.30,84.30 0 0 1 623.82,320.34 M623.56,319.82L623.94,319.93 M623.91,318.60A83.90,83.90 0 0 1 623.56,319.82 M623.35,319.10L623.74,319.21 M622.81,320.92L625.21,321.66 M623.35,319.10A83.50,83.50 0 0 1 622.81,320.92 M620.14,319.14L623.09,320.01 M619.63,320.79L624.95,322.49 M620.14,319.14A80.42,80.42 0 0 1 619.63,320.79 M619.51,319.85L619.89,319.97 M620.48,316.40A80.02,80.02 0 0 1 619.51,319.85 M619.24,317.91L620.01,318.13 M625.38,296.82L629.00,296.83 M626.35,297.66L628.99,297.70 M626.73,298.51L628.97,298.57 M626.70,299.36L628.95,299.44 M626.73,298.51A83.76,83.76 0 0 1 626.70,299.36 M626.32,298.93L626.72,298.94 M626.35,297.66A83.36,83.36 0 0 1 626.32,298.93 M625.36,298.27L626.33,298.29 M625.38,296.82A82.38,82.38 0 0 1 625.36,298.27 M624.43,297.53L625.37,297.54 M625.40,300.15L628.91,300.31 M625.36,300.98L628.87,301.18 M625.40,300.15A82.49,82.49 0 0 1 625.36,300.98 M624.73,300.53L625.38,300.57 M626.66,301.90L628.81,302.04 M626.60,302.75L628.75,302.91 M626.66,301.90A83.84,83.84 0 0 1 626.60,302.75 M626.23,302.30L626.63,302.32 M626.13,303.56L628.68,303.78 M626.23,302.30A83.44,83.44 0 0 1 626.13,303.56 M625.78,302.90L626.18,302.93 M625.66,304.36L628.60,304.64 M625.78,302.90A83.04,83.04 0 0 1 625.66,304.36 M625.33,303.59L625.72,303.63 M625.97,305.24L628.52,305.51 M626.67,306.17L628.42,306.37 M626.57,307.01L628.31,307.23 M626.67,306.17A84.24,84.24 0 0 1 626.57,307.01 M626.22,306.54L626.62,306.59 M626.06,307.80L628.20,308.10 M626.22,306.54A83.84,83.84 0 0 1 626.06,307.80 M625.75,307.12L626.14,307.17 M625.97,305.24A83.44,83.44 0 0 1 625.75,307.12 M625.47,306.13L625.86,306.18 M626.34,308.70L628.08,308.96 M626.60,309.60L627.95,309.81 M626.47,310.45L627.81,310.67 M626.60,309.60A84.64,84.64 0 0 1 626.47,310.45 M626.14,309.96L626.54,310.02 M626.34,308.70A84.24,84.24 0 0 1 626.14,309.96 M625.85,309.27L626.24,309.33 M625.53,311.15L627.66,311.53 M625.85,309.27A83.84,83.84 0 0 1 625.53,311.15 M625.30,310.14L625.69,310.21 M624.99,311.91L627.50,312.38 M625.30,310.14A83.44,83.44 0 0 1 624.99,311.91 M624.75,310.96L625.15,311.03 M625.47,306.13A83.04,83.04 0 0 1 624.75,310.96 M624.75,308.49L625.15,308.55 M625.33,303.59A82.64,82.64 0 0 1 624.75,308.49 M624.68,306.00L625.07,306.05 M625.41,312.85L627.34,313.24 M625.24,313.68L627.16,314.09 M625.41,312.85A84.03,84.03 0 0 1 625.24,313.68 M624.17,313.03L625.32,313.27 M624.35,314.36L626.98,314.94 M624.56,315.27L626.79,315.78 M624.36,316.09L626.59,316.63 M624.56,315.27A83.71,83.71 0 0 1 624.36,316.09 M624.07,315.59L624.46,315.68 M624.35,314.36A83.31,83.31 0 0 1 624.07,315.59 M623.77,314.87L624.21,314.97 M624.17,313.03A82.85,82.85 0 0 1 623.77,314.87 M623.37,313.82L623.97,313.95 M624.68,306.00A82.24,82.24 0 0 1 623.37,313.82 M623.72,309.86L624.12,309.93 M624.73,300.53A81.84,81.84 0 0 1 623.72,309.86 M623.97,305.17L624.36,305.21 M624.43,297.53A81.44,81.44 0 0 1 623.97,305.17 M622.07,301.22L624.29,301.35 M622.07,301.22A79.22,79.22 0 0 1 619.24,317.91 M619.41,309.36L621.10,309.64 M619.41,309.36A77.50,77.50 0 0 1 615.91,322.67 M613.93,325.06L614.86,325.43 M617.96,316.09A77.50,77.50 0 0 1 614.86,325.43 M600.80,357.98L601.85,359.11 M600.17,358.56L601.22,359.70 M600.80,357.98A84.45,84.45 0 0 1 600.17,358.56 M597.84,355.43L600.48,358.27 M599.50,359.10L600.57,360.28 M598.87,359.66L599.93,360.86 M599.50,359.10A84.40,84.40 0 0 1 598.87,359.66 M596.64,356.52L599.19,359.38 M597.84,355.43A80.57,80.57 0 0 1 596.64,356.52 M596.04,354.66L597.24,355.98 M596.77,358.55L599.27,361.43 M596.14,359.09L598.61,362.00 M596.77,358.55A82.18,82.18 0 0 1 596.14,359.09 M594.25,356.24L596.46,358.82 M596.04,354.66A78.79,78.79 0 0 1 594.25,356.24 M594.30,354.49L595.15,355.45 M614.55,334.91L618.73,337.16 M616.93,337.16L618.31,337.92 M616.51,337.90L617.89,338.68 M616.93,337.16A84.42,84.42 0 0 1 616.51,337.90 M616.32,337.31L616.72,337.53 M615.69,338.41L617.46,339.43 M616.32,337.31A83.96,83.96 0 0 1 615.69,338.41 M614.01,336.73L616.01,337.86 M613.88,338.33L617.02,340.18 M615.07,340.02L616.57,340.93 M614.63,340.75L616.12,341.67 M615.07,340.02A84.25,84.25 0 0 1 614.63,340.75 M613.24,339.40L614.85,340.39 M613.88,338.33A82.36,82.36 0 0 1 613.24,339.40 M612.97,338.51L613.56,338.87 M614.01,336.73A81.66,81.66 0 0 1 612.97,338.51 M613.15,337.42L613.49,337.62 M614.55,334.91A81.26,81.26 0 0 1 613.15,337.42 M611.55,334.87L613.86,336.17 M612.85,340.63L615.66,342.41 M612.40,341.33L615.19,343.14 M612.85,340.63A82.67,82.67 0 0 1 612.40,341.33 M611.79,340.45L612.62,340.98 M611.45,341.71L614.71,343.87 M611.65,342.84L614.23,344.59 M611.51,343.76L613.74,345.31 M611.03,344.45L613.24,346.02 M611.51,343.76A83.29,83.29 0 0 1 611.03,344.45 M610.94,343.88L611.27,344.11 M611.65,342.84A82.89,82.89 0 0 1 610.94,343.88 M610.97,343.14L611.30,343.36 M610.70,345.25L612.74,346.73 M610.20,345.93L612.23,347.43 M610.70,345.25A83.48,83.48 0 0 1 610.20,345.93 M609.64,345.01L610.45,345.59 M610.97,343.14A82.49,82.49 0 0 1 609.64,345.01 M609.99,343.84L610.31,344.08 M611.45,341.71A82.09,82.09 0 0 1 609.99,343.84 M610.40,342.55L610.73,342.78 M611.79,340.45A81.69,81.69 0 0 1 610.40,342.55 M610.77,341.29L611.10,341.51 M610.01,346.85L611.71,348.12 M609.49,347.52L611.18,348.82 M610.01,346.85A83.87,83.87 0 0 1 609.49,347.52 M609.43,346.94L609.75,347.18 M608.66,347.94L610.65,349.50 M609.43,346.94A83.47,83.47 0 0 1 608.66,347.94 M607.95,346.59L609.05,347.44 M607.99,348.49L610.11,350.18 M607.46,349.14L609.56,350.86 M607.99,348.49A83.29,83.29 0 0 1 607.46,349.14 M607.41,348.56L607.72,348.81 M606.92,349.79L609.01,351.53 M606.68,350.69L608.45,352.19 M606.13,351.33L607.88,352.85 M606.68,350.69A83.69,83.69 0 0 1 606.13,351.33 M606.11,350.75L606.41,351.01 M606.92,349.79A83.29,83.29 0 0 1 606.11,350.75 M606.21,350.01L606.52,350.27 M607.41,348.56A82.89,82.89 0 0 1 606.21,350.01 M606.51,349.04L606.82,349.29 M604.98,351.44L607.31,353.50 M604.42,352.06L606.72,354.15 M604.98,351.44A82.89,82.89 0 0 1 604.42,352.06 M604.40,351.48L604.70,351.75 M606.51,349.04A82.49,82.49 0 0 1 604.40,351.48 M605.16,350.01L605.47,350.27 M607.95,346.59A82.09,82.09 0 0 1 605.16,350.01 M606.27,348.07L606.58,348.32 M604.36,353.15L606.14,354.79 M604.07,354.04L605.54,355.43 M603.49,354.65L604.95,356.06 M604.07,354.04A83.98,83.98 0 0 1 603.49,354.65 M603.49,354.07L603.78,354.35 M604.36,353.15A83.58,83.58 0 0 1 603.49,354.07 M603.13,352.86L603.93,353.61 M602.40,354.78L604.34,356.68 M601.81,355.37L603.73,357.30 M602.40,354.78A83.29,83.29 0 0 1 601.81,355.37 M601.82,354.79L602.11,355.08 M600.93,355.68L603.11,357.91 M601.82,354.79A82.89,82.89 0 0 1 600.93,355.68 M601.10,354.95L601.38,355.24 M603.13,352.86A82.49,82.49 0 0 1 601.10,354.95 M601.84,353.64L602.12,353.92 M599.78,355.68L602.48,358.51 M601.84,353.64A82.09,82.09 0 0 1 599.78,355.68 M600.53,354.39L600.82,354.67 M606.27,348.07A81.69,81.69 0 0 1 600.53,354.39 M603.19,351.03L603.48,351.30 M610.77,341.29A81.29,81.29 0 0 1 603.19,351.03 M605.05,344.66L607.16,346.30 M611.55,334.87A78.61,78.61 0 0 1 605.05,344.66 M607.56,339.27L608.48,339.89 M607.56,339.27A77.50,77.50 0 0 1 594.30,354.49 M604.89,341.37L605.70,341.95 M605.70,341.95A77.50,77.50 0 0 1 601.43,347.32 M590.72,363.32L592.93,366.42 M590.03,363.81L592.20,366.93 M590.72,363.32A82.20,82.20 0 0 1 590.03,363.81 M589.60,362.47L590.38,363.57 M588.57,363.18L591.47,367.44 M589.60,362.47A80.85,80.85 0 0 1 588.57,363.18 M587.46,360.49L589.09,362.83 M593.88,357.71L597.92,362.58 M594.46,359.74L597.23,363.15 M594.72,361.43L596.53,363.71 M594.04,361.96L595.83,364.26 M594.72,361.43A83.08,83.08 0 0 1 594.04,361.96 M593.47,360.53L594.38,361.69 M594.46,359.74A81.61,81.61 0 0 1 593.47,360.53 M593.00,358.94L593.97,360.14 M593.09,362.14L595.12,364.81 M592.92,363.36L594.40,365.35 M592.22,363.88L593.68,365.88 M592.92,363.36A83.52,83.52 0 0 1 592.22,363.88 M592.06,362.92L592.57,363.62 M593.09,362.14A82.65,82.65 0 0 1 592.06,362.92 M591.03,360.47L592.57,362.53 M593.00,358.94A80.07,80.07 0 0 1 591.03,360.47 M591.78,359.39L592.02,359.71 M593.88,357.71A79.67,79.67 0 0 1 591.78,359.39 M591.79,357.26L592.84,358.56 M591.79,357.26A78.00,78.00 0 0 1 587.46,360.49 M589.42,355.82L591.02,357.86 M591.02,357.86A78.00,78.00 0 0 1 589.65,358.91 M530.23,356.46A61.40,61.40 0 0 1 504.69,344.39 M519.63,351.45L519.01,352.92 M512.30,349.57L508.00,357.02 M514.75,360.45A70.00,70.00 0 0 1 500.29,351.86 M504.50,367.92L502.24,372.13 M502.46,369.90L501.47,371.71 M501.52,369.84L500.71,371.28 M500.78,369.41L499.95,370.85 M501.52,369.84A84.34,84.34 0 0 1 500.78,369.41 M501.35,369.28L501.15,369.63 M502.46,369.90A83.94,83.94 0 0 1 501.35,369.28 M503.24,367.22L501.91,369.59 M504.50,367.92A81.22,81.22 0 0 1 503.24,367.22 M506.87,362.12L503.87,367.57 M500.43,368.30L499.19,370.40 M499.49,368.21L498.44,369.95 M498.77,367.76L497.69,369.50 M499.49,368.21A83.96,83.96 0 0 1 498.77,367.76 M499.34,367.65L499.13,367.99 M500.43,368.30A83.56,83.56 0 0 1 499.34,367.65 M500.09,367.64L499.88,367.98 M498.04,367.31L496.95,369.03 M497.32,366.85L496.21,368.56 M498.04,367.31A83.96,83.96 0 0 1 497.32,366.85 M497.90,366.74L497.68,367.08 M496.83,366.05L495.48,368.08 M497.90,366.74A83.56,83.56 0 0 1 496.83,366.05 M497.58,366.06L497.36,366.40 M500.09,367.64A83.16,83.16 0 0 1 497.58,366.06 M502.64,360.78L498.83,366.86 M496.51,364.99L494.75,367.59 M495.53,364.93L494.03,367.10 M494.84,364.44L493.32,366.60 M495.53,364.93A83.36,83.36 0 0 1 494.84,364.44 M495.47,364.28L495.19,364.69 M496.51,364.99A82.86,82.86 0 0 1 495.47,364.28 M499.46,359.60L495.99,364.64 M495.18,362.52L492.60,366.08 M493.48,363.42L491.90,365.57 M492.80,362.91L491.19,365.05 M493.48,363.42A83.33,83.33 0 0 1 492.80,362.91 M493.38,362.85L493.14,363.17 M492.37,362.08L490.50,364.52 M493.38,362.85A82.93,82.93 0 0 1 492.37,362.08 M493.68,361.41L492.88,362.47 M495.18,362.52A81.60,81.60 0 0 1 493.68,361.41 M496.44,359.24L494.43,361.97 M490.84,362.65L489.81,363.97 M489.92,362.43L489.12,363.43 M489.25,361.89L488.44,362.88 M489.92,362.43A84.72,84.72 0 0 1 489.25,361.89 M489.84,361.85L489.59,362.16 M490.84,362.65A84.32,84.32 0 0 1 489.84,361.85 M490.59,361.94L490.34,362.25 M489.10,360.73L487.77,362.32 M490.59,361.94A83.92,83.92 0 0 1 489.10,360.73 M490.10,361.03L489.84,361.34 M488.45,360.17L487.10,361.75 M487.81,359.62L486.44,361.18 M488.45,360.17A83.92,83.92 0 0 1 487.81,359.62 M488.39,359.59L488.13,359.90 M490.10,361.03A83.52,83.52 0 0 1 488.39,359.59 M489.50,360.01L489.24,360.32 M487.70,358.45L485.78,360.60 M489.50,360.01A83.12,83.12 0 0 1 487.70,358.45 M491.81,355.53L488.59,359.24 M496.44,359.24A78.21,78.21 0 0 1 491.81,355.53 M495.01,356.28L494.09,357.43 M499.46,359.60A76.74,76.74 0 0 1 495.01,356.28 M497.65,357.38L497.20,357.98 M502.64,360.78A75.99,75.99 0 0 1 497.65,357.38 M500.67,358.31L500.11,359.13 M506.87,362.12A75.00,75.00 0 0 1 500.67,358.31 M500.29,351.86L497.24,355.82 M503.72,360.29A75.00,75.00 0 0 1 497.24,355.82 M508.16,373.93L507.75,374.85 M507.06,374.25L506.95,374.48 M506.24,373.93L506.16,374.11 M505.46,373.55L505.37,373.73 M504.67,373.16L504.58,373.34 M505.46,373.55A85.80,85.80 0 0 1 504.67,373.16 M505.06,373.36L505.06,373.36 M503.89,372.77L503.80,372.94 M505.06,373.36A85.80,85.80 0 0 1 503.89,372.77 M504.47,373.06L504.47,373.06 M503.11,372.36L503.02,372.54 M504.47,373.06A85.80,85.80 0 0 1 503.11,372.36 M503.79,372.72L503.79,372.72 M506.24,373.93A85.80,85.80 0 0 1 503.79,372.72 M505.04,373.29L505.01,373.33 M507.06,374.25A85.75,85.75 0 0 1 505.04,373.29 M506.37,373.10L506.04,373.78 M508.16,373.93A85.00,85.00 0 0 1 506.37,373.10 M510.84,365.81L507.26,373.52 M512.11,373.42L510.99,376.22 M511.33,373.10L510.18,375.89 M512.11,373.42A82.98,82.98 0 0 1 511.33,373.10 M511.87,372.89L511.72,373.26 M510.70,372.41L509.37,375.55 M511.87,372.89A82.58,82.58 0 0 1 510.70,372.41 M511.82,371.37L511.29,372.65 M510.49,370.80L508.56,375.20 M511.82,371.37A81.19,81.19 0 0 1 510.49,370.80 M512.66,367.54L511.15,371.09 M531.55,380.01L531.34,381.61 M530.70,379.88L530.47,381.48 M531.55,380.01A84.39,84.39 0 0 1 530.70,379.88 M531.19,379.55L531.13,379.95 M529.91,379.36L529.60,381.35 M531.19,379.55A83.99,83.99 0 0 1 529.91,379.36 M531.04,376.18L530.55,379.46 M529.62,375.95L528.74,381.21 M531.04,376.18A80.67,80.67 0 0 1 529.62,375.95 M530.66,374.01L530.33,376.07 M528.46,377.70L527.86,381.06 M527.63,377.55L527.00,380.90 M528.46,377.70A82.59,82.59 0 0 1 527.63,377.55 M528.13,377.19L528.05,377.63 M526.45,379.14L526.13,380.73 M525.61,378.96L525.27,380.55 M526.45,379.14A84.38,84.38 0 0 1 525.61,378.96 M526.40,377.26L526.03,379.05 M524.81,378.59L524.42,380.37 M523.97,378.40L523.56,380.17 M524.81,378.59A84.18,84.18 0 0 1 523.97,378.40 M524.75,376.91L524.39,378.49 M526.40,377.26A82.55,82.55 0 0 1 524.75,376.91 M525.66,376.70L525.57,377.09 M528.13,377.19A82.15,82.15 0 0 1 525.66,376.70 M526.97,376.56L526.89,376.95 M523.23,377.79L522.70,379.97 M522.40,377.58L521.85,379.76 M523.23,377.79A83.75,83.75 0 0 1 522.40,377.58 M522.91,377.30L522.82,377.68 M521.68,376.98L521.00,379.54 M522.91,377.30A83.35,83.35 0 0 1 521.68,376.98 M522.59,375.98L522.30,377.14 M521.07,375.98L520.15,379.31 M520.26,375.75L519.31,379.07 M521.07,375.98A82.55,82.55 0 0 1 520.26,375.75 M520.77,375.48L520.66,375.87 M522.59,375.98A82.15,82.15 0 0 1 520.77,375.48 M521.78,375.35L521.68,375.74 M526.97,376.56A81.75,81.75 0 0 1 521.78,375.35 M524.46,375.61L524.37,376.00 M519.45,375.52L518.46,378.83 M518.52,375.65L517.62,378.57 M517.47,376.16L516.78,378.31 M516.66,375.90L515.95,378.03 M517.47,376.16A83.75,83.75 0 0 1 516.66,375.90 M517.19,375.65L517.06,376.03 M515.97,375.25L515.11,377.75 M517.19,375.65A83.35,83.35 0 0 1 515.97,375.25 M516.71,375.07L516.58,375.45 M518.52,375.65A82.95,82.95 0 0 1 516.71,375.07 M517.73,374.99L517.61,375.37 M519.45,375.52A82.55,82.55 0 0 1 517.73,374.99 M518.71,374.87L518.59,375.26 M515.30,374.59L514.29,377.46 M514.21,375.12L513.46,377.17 M513.40,374.82L512.63,376.86 M514.21,375.12A83.82,83.82 0 0 1 513.40,374.82 M514.11,374.15L513.81,374.97 M515.30,374.59A82.95,82.95 0 0 1 514.11,374.15 M514.84,374.00L514.71,374.37 M513.07,373.33L511.81,376.55 M514.84,374.00A82.55,82.55 0 0 1 513.07,373.33 M514.09,373.29L513.95,373.67 M518.71,374.87A82.15,82.15 0 0 1 514.09,373.29 M516.65,373.36L516.39,374.12 M524.46,375.61A81.35,81.35 0 0 1 516.65,373.36 M521.29,371.93L520.52,374.58 M530.66,374.01A78.59,78.59 0 0 1 521.29,371.93 M526.21,371.90L525.94,373.11 M526.21,371.90A77.34,77.34 0 0 1 512.66,367.54 M519.59,369.23L519.34,370.03 M519.59,369.23A76.50,76.50 0 0 1 510.84,365.81 M514.75,360.45L512.13,366.39 M515.16,367.66A76.50,76.50 0 0 1 512.13,366.39 M502.98,346.35A64.00,64.00 0 0 1 495.44,339.22 M501.46,339.42L498.54,342.44 M486.71,358.29L485.14,360.02 M486.09,357.72L484.50,359.44 M486.71,358.29A83.65,83.65 0 0 1 486.09,357.72 M486.67,357.71L486.40,358.00 M484.65,358.01L483.87,358.84 M484.04,357.42L483.24,358.24 M484.65,358.01A84.85,84.85 0 0 1 484.04,357.42 M484.62,357.43L484.34,357.72 M483.70,356.54L482.62,357.64 M484.62,357.43A84.45,84.45 0 0 1 483.70,356.54 M484.44,356.70L484.16,356.99 M483.10,355.94L482.01,357.03 M482.51,355.33L481.40,356.41 M483.10,355.94A84.45,84.45 0 0 1 482.51,355.33 M483.09,355.36L482.80,355.64 M484.44,356.70A84.05,84.05 0 0 1 483.09,355.36 M484.04,355.75L483.76,356.03 M481.63,355.00L480.80,355.79 M480.75,354.65L480.20,355.16 M480.16,354.02L479.61,354.52 M480.75,354.65A85.25,85.25 0 0 1 480.16,354.02 M480.75,354.06L480.45,354.33 M481.63,355.00A84.85,84.85 0 0 1 480.75,354.06 M481.48,354.26L481.19,354.53 M479.88,353.12L479.03,353.88 M479.32,352.48L478.46,353.23 M479.88,353.12A84.85,84.85 0 0 1 479.32,352.48 M479.90,352.53L479.60,352.80 M481.48,354.26A84.45,84.45 0 0 1 479.90,352.53 M480.98,353.13L480.68,353.40 M479.06,351.57L477.89,352.58 M478.50,350.92L477.32,351.92 M479.06,351.57A84.45,84.45 0 0 1 478.50,350.92 M479.08,350.99L478.78,351.25 M480.98,353.13A84.05,84.05 0 0 1 479.08,350.99 M480.32,351.80L480.02,352.07 M484.04,355.75A83.65,83.65 0 0 1 480.32,351.80 M482.44,353.53L482.15,353.80 M486.67,357.71A83.25,83.25 0 0 1 482.44,353.53 M484.80,355.37L484.52,355.66 M478.57,349.76L476.77,351.26 M478.04,349.11L476.22,350.59 M478.57,349.76A83.65,83.65 0 0 1 478.04,349.11 M478.62,349.18L478.31,349.44 M477.20,348.70L475.68,349.91 M476.05,348.53L475.14,349.23 M474.77,348.43L474.61,348.55 M474.25,347.74L474.09,347.85 M474.77,348.43A85.80,85.80 0 0 1 474.25,347.74 M474.63,347.99L474.51,348.08 M473.86,346.95L473.58,347.16 M474.63,347.99A85.65,85.65 0 0 1 473.86,346.95 M474.56,347.24L474.24,347.48 M473.68,346.02L473.07,346.46 M474.56,347.24A85.25,85.25 0 0 1 473.68,346.02 M474.44,346.40L474.12,346.63 M476.05,348.53A84.85,84.85 0 0 1 474.44,346.40 M475.55,347.23L475.23,347.47 M473.83,344.86L472.57,345.75 M475.55,347.23A84.45,84.45 0 0 1 473.83,344.86 M475.01,345.82L474.68,346.05 M477.20,348.70A84.05,84.05 0 0 1 475.01,345.82 M476.41,347.03L476.09,347.27 M473.35,344.16L472.08,345.04 M472.87,343.46L471.59,344.32 M473.35,344.16A84.45,84.45 0 0 1 472.87,343.46 M473.44,343.59L473.11,343.81 M472.74,342.53L471.11,343.60 M473.44,343.59A84.05,84.05 0 0 1 472.74,342.53 M473.42,342.84L473.09,343.06 M476.41,347.03A83.65,83.65 0 0 1 473.42,342.84 M475.21,344.73L474.88,344.96 M478.62,349.18A83.25,83.25 0 0 1 475.21,344.73 M477.19,346.74L476.87,346.98 M484.80,355.37A82.85,82.85 0 0 1 477.19,346.74 M482.99,349.30L480.85,351.19 M495.44,339.22L483.55,349.93 M483.55,349.93A80.00,80.00 0 0 1 482.99,349.30 M472.07,325.06A76.50,76.50 0 0 1 466.50,295.73 M472.04,341.97L470.64,342.87 M471.58,341.25L470.17,342.14 M472.04,341.97A84.33,84.33 0 0 1 471.58,341.25 M472.30,341.30L471.81,341.61 M470.94,340.64L469.71,341.40 M470.49,339.91L469.26,340.65 M470.94,340.64A84.56,84.56 0 0 1 470.49,339.91 M471.06,340.07L470.72,340.28 M470.40,338.97L468.81,339.90 M471.06,340.07A84.16,84.16 0 0 1 470.40,338.97 M471.07,339.32L470.73,339.52 M472.30,341.30A83.76,83.76 0 0 1 471.07,339.32 M472.02,340.10L471.68,340.31 M470.32,338.03L468.38,339.15 M469.90,337.30L467.95,338.39 M470.32,338.03A83.76,83.76 0 0 1 469.90,337.30 M470.46,337.47L470.11,337.67 M472.02,340.10A83.36,83.36 0 0 1 470.46,337.47 M471.57,338.59L471.23,338.79 M469.49,336.55L467.53,337.63 M468.38,336.18L467.11,336.86 M467.27,335.79L466.71,336.09 M466.52,335.20L466.31,335.31 M466.13,334.43L465.92,334.53 M466.52,335.20A85.76,85.76 0 0 1 466.13,334.43 M466.68,334.64L466.33,334.82 M467.27,335.79A85.36,85.36 0 0 1 466.68,334.64 M467.33,335.03L466.98,335.22 M466.47,333.30L465.53,333.75 M467.33,335.03A84.96,84.96 0 0 1 466.47,333.30 M467.26,333.99L466.90,334.17 M468.38,336.18A84.56,84.56 0 0 1 467.26,333.99 M468.17,334.91L467.81,335.09 M466.83,332.18L465.16,332.96 M468.17,334.91A84.16,84.16 0 0 1 466.83,332.18 M467.84,333.37L467.48,333.55 M469.49,336.55A83.76,83.76 0 0 1 467.84,333.37 M469.01,334.79L468.65,334.97 M466.83,331.24L464.79,332.17 M466.48,330.47L464.44,331.38 M466.83,331.24A83.76,83.76 0 0 1 466.48,330.47 M467.02,330.69L466.66,330.86 M469.01,334.79A83.36,83.36 0 0 1 467.02,330.69 M468.35,332.58L467.99,332.75 M471.57,338.59A82.96,82.96 0 0 1 468.35,332.58 M470.25,335.43L469.90,335.62 M466.51,329.53L464.08,330.58 M465.81,328.91L463.74,329.78 M465.11,328.28L463.41,328.98 M464.42,327.63L463.08,328.17 M464.11,326.84L462.76,327.36 M464.42,327.63A84.56,84.56 0 0 1 464.11,326.84 M464.64,327.09L464.26,327.24 M465.11,328.28A84.16,84.16 0 0 1 464.64,327.09 M465.24,327.54L464.87,327.68 M465.81,328.91A83.76,83.76 0 0 1 465.24,327.54 M465.89,328.07L465.52,328.22 M466.51,329.53A83.36,83.36 0 0 1 465.89,328.07 M466.57,328.65L466.20,328.80 M464.18,325.90L462.45,326.54 M463.88,325.10L462.15,325.72 M464.18,325.90A84.16,84.16 0 0 1 463.88,325.10 M464.41,325.36L464.03,325.50 M463.60,324.29L461.86,324.90 M462.56,323.74L461.58,324.08 M462.29,322.93L461.30,323.25 M462.56,323.74A84.96,84.96 0 0 1 462.29,322.93 M462.80,323.21L462.42,323.34 M462.41,321.99L461.03,322.42 M462.80,323.21A84.56,84.56 0 0 1 462.41,321.99 M462.98,322.47L462.60,322.60 M463.60,324.29A84.16,84.16 0 0 1 462.98,322.47 M463.66,323.26L463.28,323.38 M464.41,325.36A83.76,83.76 0 0 1 463.66,323.26 M464.41,324.18L464.03,324.31 M462.53,321.05L460.77,321.59 M462.29,320.23L460.52,320.76 M462.53,321.05A84.16,84.16 0 0 1 462.29,320.23 M462.79,320.53L462.41,320.64 M462.05,319.42L460.28,319.92 M461.82,318.59L460.04,319.08 M462.05,319.42A84.16,84.16 0 0 1 461.82,318.59 M462.32,318.90L461.93,319.01 M462.79,320.53A83.76,83.76 0 0 1 462.32,318.90 M462.94,319.60L462.55,319.71 M464.41,324.18A83.36,83.36 0 0 1 462.94,319.60 M464.02,321.78L463.64,321.90 M466.57,328.65A82.96,82.96 0 0 1 464.02,321.78 M465.59,325.10L465.22,325.24 M470.25,335.43A82.56,82.56 0 0 1 465.59,325.10 M470.53,329.09L467.74,330.35 M472.07,325.06L469.29,326.18 M470.53,329.09A79.50,79.50 0 0 1 469.29,326.18" fill="none" stroke="#111" stroke-width="0.8" stroke-linecap="butt"/>
<path d="M533.03,210.27A86.7,86.7 0 0 1 564.56,212.42" fill="none" stroke="#F8766D" stroke-width="3.0"/>
<path d="M564.56,212.42A86.7,86.7 0 0 1 567.77,213.31" fill="none" stroke="#00B0F6" stroke-width="3.0"/>
<path d="M567.77,213.31A86.7,86.7 0 0 1 629.49,290.35" fill="none" stroke="#E76BF3" stroke-width="3.0"/>
<path d="M629.49,290.35A86.7,86.7 0 0 1 629.62,292.62" fill="none" stroke="#F8766D" stroke-width="3.0"/>
<path d="M629.62,292.62A86.7,86.7 0 0 1 629.70,295.64" fill="none" stroke="#E76BF3" stroke-width="3.0"/>
<path d="M629.70,295.64A86.7,86.7 0 0 1 537.71,382.94" fill="none" stroke="#00BF7D" stroke-width="3.0"/>
<path d="M537.71,382.94A86.7,86.7 0 0 1 473.76,244.22" fill="none" stroke="#00B0F6" stroke-width="3.0"/>
<path d="M473.76,244.22A86.7,86.7 0 0 1 533.03,210.27" fill="none" stroke="#A3A500" stroke-width="3.0"/>
<text x="661.8" y="271" font-size="7.4" fill="#000">Cluster</text>
<circle cx="667" cy="280.20" r="1.3" fill="#F8766D"/>
<text x="676.3" y="282.30" font-size="6" fill="#333">1</text>
<circle cx="667" cy="291.00" r="1.3" fill="#A3A500"/>
<text x="676.3" y="293.10" font-size="6" fill="#333">2</text>
<circle cx="667" cy="301.80" r="1.3" fill="#00BF7D"/>
<text x="676.3" y="303.90" font-size="6" fill="#333">3</text>
<circle cx="667" cy="312.60" r="1.3" fill="#00B0F6"/>
<text x="676.3" y="314.70" font-size="6" fill="#333">4</text>
<circle cx="667" cy="323.40" r="1.3" fill="#E76BF3"/>
<text x="676.3" y="325.50" font-size="6" fill="#333">5</text>
</svg>
</body></html>
